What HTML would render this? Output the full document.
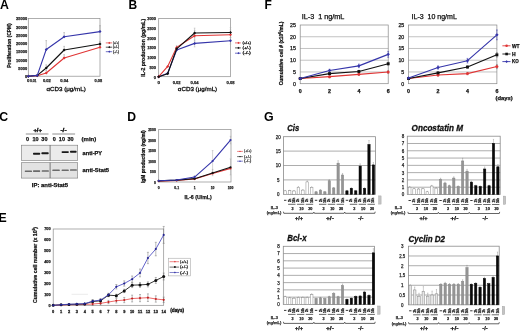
<!DOCTYPE html>
<html><head><meta charset="utf-8"><style>
html,body{margin:0;padding:0;background:#fff;width:520px;height:332px;overflow:hidden}
svg{display:block;font-family:"Liberation Sans", sans-serif;filter:blur(0.3px)}
</style></head><body>
<svg width="520" height="332" viewBox="0 0 520 332">
<rect width="520" height="332" fill="#fff"/>
<text x="0" y="8.7" font-size="12.3" font-weight="bold">A</text>
<text x="128.4" y="8.7" font-size="12" font-weight="bold">B</text>
<text x="-0.7" y="120.7" font-size="12.3" font-weight="bold">C</text>
<text x="127.3" y="120.8" font-size="12.2" font-weight="bold">D</text>
<text x="-1.4" y="221.6" font-size="12.3" font-weight="bold">E</text>
<text x="264.6" y="8.7" font-size="12" font-weight="bold">F</text>
<text x="264.1" y="120.6" font-size="12.4" font-weight="bold">G</text>
<rect x="28.3" y="18.5" width="71.7" height="57.7" fill="none" stroke="#8c8c8c" stroke-width="0.7" />
<text x="27.1" y="78.05" font-size="4.3" fill="#222" stroke="#222" stroke-width="0.25" font-weight="bold" text-anchor="end" textLength="2.2" lengthAdjust="spacingAndGlyphs" >0</text>
<text x="27.1" y="69.81" font-size="4.3" fill="#222" stroke="#222" stroke-width="0.25" font-weight="bold" text-anchor="end" textLength="8.8" lengthAdjust="spacingAndGlyphs" >5000</text>
<text x="27.1" y="61.56" font-size="4.3" fill="#222" stroke="#222" stroke-width="0.25" font-weight="bold" text-anchor="end" textLength="11" lengthAdjust="spacingAndGlyphs" >10000</text>
<text x="27.1" y="53.32" font-size="4.3" fill="#222" stroke="#222" stroke-width="0.25" font-weight="bold" text-anchor="end" textLength="11" lengthAdjust="spacingAndGlyphs" >15000</text>
<text x="27.1" y="45.08" font-size="4.3" fill="#222" stroke="#222" stroke-width="0.25" font-weight="bold" text-anchor="end" textLength="11" lengthAdjust="spacingAndGlyphs" >20000</text>
<text x="27.1" y="36.83" font-size="4.3" fill="#222" stroke="#222" stroke-width="0.25" font-weight="bold" text-anchor="end" textLength="11" lengthAdjust="spacingAndGlyphs" >25000</text>
<text x="27.1" y="28.59" font-size="4.3" fill="#222" stroke="#222" stroke-width="0.25" font-weight="bold" text-anchor="end" textLength="11" lengthAdjust="spacingAndGlyphs" >30000</text>
<text x="27.1" y="20.35" font-size="4.3" fill="#222" stroke="#222" stroke-width="0.25" font-weight="bold" text-anchor="end" textLength="11" lengthAdjust="spacingAndGlyphs" >35000</text>
<text x="28.2" y="82.48" font-size="4.4" fill="#222" stroke="#222" stroke-width="0.25" font-weight="bold" text-anchor="middle" >0</text>
<text x="33.2" y="82.48" font-size="4.4" fill="#222" stroke="#222" stroke-width="0.25" font-weight="bold" text-anchor="middle" textLength="6.6" lengthAdjust="spacingAndGlyphs" >0.01</text>
<text x="46.9" y="82.48" font-size="4.4" fill="#222" stroke="#222" stroke-width="0.25" font-weight="bold" text-anchor="middle" textLength="8" lengthAdjust="spacingAndGlyphs" >0.02</text>
<text x="64.3" y="82.48" font-size="4.4" fill="#222" stroke="#222" stroke-width="0.25" font-weight="bold" text-anchor="middle" textLength="8" lengthAdjust="spacingAndGlyphs" >0.04</text>
<text x="98.4" y="82.48" font-size="4.4" fill="#222" stroke="#222" stroke-width="0.25" font-weight="bold" text-anchor="middle" textLength="7.6" lengthAdjust="spacingAndGlyphs" >0.08</text>
<text x="46.4" y="90.76" font-size="6" fill="#111" stroke="#111" stroke-width="0.3" textLength="39.4" lengthAdjust="spacingAndGlyphs" >&#945;CD3 (&#956;g/mL)</text>
<text x="8.9" y="47.52" font-size="5.6" fill="#111" stroke="#111" stroke-width="0.25" font-weight="bold" text-anchor="middle" textLength="44.5" lengthAdjust="spacingAndGlyphs" transform="rotate(-90 8.9 45.5)" >Proliferation (CPM)</text>
<line x1="46.23" y1="49.49" x2="46.23" y2="40.59" stroke="#999" stroke-width="0.55" />
<line x1="45.43" y1="49.49" x2="47.02" y2="49.49" stroke="#999" stroke-width="0.55" />
<line x1="45.43" y1="40.59" x2="47.02" y2="40.59" stroke="#999" stroke-width="0.55" />
<line x1="64.15" y1="36.75" x2="64.15" y2="32.63" stroke="#999" stroke-width="0.55" />
<line x1="63.35" y1="36.75" x2="64.95" y2="36.75" stroke="#999" stroke-width="0.55" />
<line x1="63.35" y1="32.63" x2="64.95" y2="32.63" stroke="#999" stroke-width="0.55" />
<line x1="100" y1="31.61" x2="100" y2="25.67" stroke="#999" stroke-width="0.55" />
<line x1="99.2" y1="31.61" x2="100.8" y2="31.61" stroke="#999" stroke-width="0.55" />
<line x1="99.2" y1="25.67" x2="100.8" y2="25.67" stroke="#999" stroke-width="0.55" />
<line x1="64.15" y1="50" x2="64.15" y2="46.38" stroke="#999" stroke-width="0.55" />
<line x1="63.35" y1="50" x2="64.95" y2="50" stroke="#999" stroke-width="0.55" />
<line x1="63.35" y1="46.38" x2="64.95" y2="46.38" stroke="#999" stroke-width="0.55" />
<line x1="100" y1="44" x2="100" y2="41.53" stroke="#999" stroke-width="0.55" />
<line x1="99.2" y1="44" x2="100.8" y2="44" stroke="#999" stroke-width="0.55" />
<line x1="99.2" y1="41.53" x2="100.8" y2="41.53" stroke="#999" stroke-width="0.55" />
<line x1="64.15" y1="58" x2="64.15" y2="54.7" stroke="#999" stroke-width="0.55" />
<line x1="63.35" y1="58" x2="64.95" y2="58" stroke="#999" stroke-width="0.55" />
<line x1="63.35" y1="54.7" x2="64.95" y2="54.7" stroke="#999" stroke-width="0.55" />
<line x1="100" y1="47.2" x2="100" y2="45.22" stroke="#999" stroke-width="0.55" />
<line x1="99.2" y1="47.2" x2="100.8" y2="47.2" stroke="#999" stroke-width="0.55" />
<line x1="99.2" y1="45.22" x2="100.8" y2="45.22" stroke="#999" stroke-width="0.55" />
<line x1="46.23" y1="68.01" x2="46.23" y2="64.87" stroke="#999" stroke-width="0.55" />
<line x1="45.43" y1="68.01" x2="47.02" y2="68.01" stroke="#999" stroke-width="0.55" />
<line x1="45.43" y1="64.87" x2="47.02" y2="64.87" stroke="#999" stroke-width="0.55" />
<line x1="46.23" y1="73" x2="46.23" y2="70.53" stroke="#999" stroke-width="0.55" />
<line x1="45.43" y1="73" x2="47.02" y2="73" stroke="#999" stroke-width="0.55" />
<line x1="45.43" y1="70.53" x2="47.02" y2="70.53" stroke="#999" stroke-width="0.55" />
<polyline points="28.3,76.2 37.26,75.71 46.23,73 64.15,58 100,47.2" fill="none" stroke="#e03535" stroke-width="1.1" stroke-linejoin="round" />
<path d="M26.8 76.2L28.3 74.7L29.8 76.2L28.3 77.7Z" fill="#e03535"/>
<path d="M35.76 75.71L37.26 74.21L38.76 75.71L37.26 77.21Z" fill="#e03535"/>
<path d="M44.73 73L46.23 71.5L47.73 73L46.23 74.5Z" fill="#e03535"/>
<path d="M62.65 58L64.15 56.5L65.65 58L64.15 59.5Z" fill="#e03535"/>
<path d="M98.5 47.2L100 45.7L101.5 47.2L100 48.7Z" fill="#e03535"/>
<polyline points="28.3,76.2 37.26,75.38 46.23,68.01 64.15,50 100,44" fill="none" stroke="#111" stroke-width="1.1" stroke-linejoin="round" />
<path d="M26.8 76.2L28.3 74.7L29.8 76.2L28.3 77.7Z" fill="#111"/>
<path d="M35.76 75.38L37.26 73.88L38.76 75.38L37.26 76.88Z" fill="#111"/>
<path d="M44.73 68.01L46.23 66.51L47.73 68.01L46.23 69.51Z" fill="#111"/>
<path d="M62.65 50L64.15 48.5L65.65 50L64.15 51.5Z" fill="#111"/>
<path d="M98.5 44L100 42.5L101.5 44L100 45.5Z" fill="#111"/>
<polyline points="28.3,76.2 37.26,75.38 46.23,49.49 64.15,36.75 100,31.61" fill="none" stroke="#3535aa" stroke-width="1.1" stroke-linejoin="round" />
<path d="M26.8 76.2L28.3 74.7L29.8 76.2L28.3 77.7Z" fill="#3535aa"/>
<path d="M35.76 75.38L37.26 73.88L38.76 75.38L37.26 76.88Z" fill="#3535aa"/>
<path d="M44.73 49.49L46.23 47.99L47.73 49.49L46.23 50.99Z" fill="#3535aa"/>
<path d="M62.65 36.75L64.15 35.25L65.65 36.75L64.15 38.25Z" fill="#3535aa"/>
<path d="M98.5 31.61L100 30.11L101.5 31.61L100 33.11Z" fill="#3535aa"/>
<line x1="105.8" y1="42.9" x2="112.2" y2="42.9" stroke="#e03535" stroke-width="0.7" />
<path d="M108.2 42.9L109.3 41.8L110.4 42.9L109.3 44Z" fill="#e03535"/>
<text x="113" y="43.98" font-size="3" fill="#444" stroke="#444" stroke-width="0.25" textLength="6" lengthAdjust="spacingAndGlyphs" >(+/+)</text>
<line x1="105.8" y1="47.2" x2="112.2" y2="47.2" stroke="#111" stroke-width="0.7" />
<path d="M108.2 47.2L109.3 46.1L110.4 47.2L109.3 48.3Z" fill="#111"/>
<text x="113" y="48.28" font-size="3" fill="#444" stroke="#444" stroke-width="0.25" textLength="6" lengthAdjust="spacingAndGlyphs" >(+/-)</text>
<line x1="105.8" y1="51.7" x2="112.2" y2="51.7" stroke="#3535aa" stroke-width="0.7" />
<path d="M108.2 51.7L109.3 50.6L110.4 51.7L109.3 52.8Z" fill="#3535aa"/>
<text x="113" y="52.78" font-size="3" fill="#444" stroke="#444" stroke-width="0.25" textLength="6" lengthAdjust="spacingAndGlyphs" >(-/-)</text>
<rect x="158.7" y="18.4" width="71.8" height="58.3" fill="none" stroke="#8c8c8c" stroke-width="0.7" />
<text x="156" y="78.55" font-size="4.3" fill="#222" stroke="#222" stroke-width="0.25" font-weight="bold" text-anchor="end" textLength="2.2" lengthAdjust="spacingAndGlyphs" >0</text>
<text x="156" y="68.83" font-size="4.3" fill="#222" stroke="#222" stroke-width="0.25" font-weight="bold" text-anchor="end" textLength="6.6" lengthAdjust="spacingAndGlyphs" >500</text>
<text x="156" y="59.11" font-size="4.3" fill="#222" stroke="#222" stroke-width="0.25" font-weight="bold" text-anchor="end" textLength="8.8" lengthAdjust="spacingAndGlyphs" >1000</text>
<text x="156" y="49.4" font-size="4.3" fill="#222" stroke="#222" stroke-width="0.25" font-weight="bold" text-anchor="end" textLength="8.8" lengthAdjust="spacingAndGlyphs" >1500</text>
<text x="156" y="39.68" font-size="4.3" fill="#222" stroke="#222" stroke-width="0.25" font-weight="bold" text-anchor="end" textLength="8.8" lengthAdjust="spacingAndGlyphs" >2000</text>
<text x="156" y="29.96" font-size="4.3" fill="#222" stroke="#222" stroke-width="0.25" font-weight="bold" text-anchor="end" textLength="8.8" lengthAdjust="spacingAndGlyphs" >2500</text>
<text x="156" y="20.25" font-size="4.3" fill="#222" stroke="#222" stroke-width="0.25" font-weight="bold" text-anchor="end" textLength="8.8" lengthAdjust="spacingAndGlyphs" >3000</text>
<text x="158.7" y="83.58" font-size="4.4" fill="#222" stroke="#222" stroke-width="0.25" font-weight="bold" text-anchor="middle" >0</text>
<text x="176.65" y="83.58" font-size="4.4" fill="#222" stroke="#222" stroke-width="0.25" font-weight="bold" text-anchor="middle" textLength="8" lengthAdjust="spacingAndGlyphs" >0.02</text>
<text x="194.6" y="83.58" font-size="4.4" fill="#222" stroke="#222" stroke-width="0.25" font-weight="bold" text-anchor="middle" textLength="8" lengthAdjust="spacingAndGlyphs" >0.04</text>
<text x="230.5" y="83.58" font-size="4.4" fill="#222" stroke="#222" stroke-width="0.25" font-weight="bold" text-anchor="middle" textLength="8" lengthAdjust="spacingAndGlyphs" >0.08</text>
<text x="177.8" y="90.96" font-size="6" fill="#111" stroke="#111" stroke-width="0.3" textLength="39.4" lengthAdjust="spacingAndGlyphs" >&#945;CD3 (&#956;g/mL)</text>
<text x="142.9" y="49.67" font-size="5.2" fill="#111" stroke="#111" stroke-width="0.25" font-weight="bold" text-anchor="middle" textLength="58" lengthAdjust="spacingAndGlyphs" transform="rotate(-90 142.9 47.8)" >IL-2 production (pg/mL)</text>
<line x1="194.6" y1="41.23" x2="194.6" y2="30.35" stroke="#aaa" stroke-width="0.5" />
<line x1="193.8" y1="41.23" x2="195.4" y2="41.23" stroke="#aaa" stroke-width="0.5" />
<line x1="193.8" y1="30.35" x2="195.4" y2="30.35" stroke="#aaa" stroke-width="0.5" />
<line x1="230.5" y1="39.56" x2="230.5" y2="29.85" stroke="#aaa" stroke-width="0.5" />
<line x1="229.7" y1="39.56" x2="231.3" y2="39.56" stroke="#aaa" stroke-width="0.5" />
<line x1="229.7" y1="29.85" x2="231.3" y2="29.85" stroke="#aaa" stroke-width="0.5" />
<line x1="194.6" y1="37.85" x2="194.6" y2="28.14" stroke="#aaa" stroke-width="0.5" />
<line x1="193.8" y1="37.85" x2="195.4" y2="37.85" stroke="#aaa" stroke-width="0.5" />
<line x1="193.8" y1="28.14" x2="195.4" y2="28.14" stroke="#aaa" stroke-width="0.5" />
<line x1="230.5" y1="37.37" x2="230.5" y2="27.65" stroke="#aaa" stroke-width="0.5" />
<line x1="229.7" y1="37.37" x2="231.3" y2="37.37" stroke="#aaa" stroke-width="0.5" />
<line x1="229.7" y1="27.65" x2="231.3" y2="27.65" stroke="#aaa" stroke-width="0.5" />
<line x1="194.6" y1="46.89" x2="194.6" y2="39.89" stroke="#aaa" stroke-width="0.5" />
<line x1="193.8" y1="46.89" x2="195.4" y2="46.89" stroke="#aaa" stroke-width="0.5" />
<line x1="193.8" y1="39.89" x2="195.4" y2="39.89" stroke="#aaa" stroke-width="0.5" />
<line x1="230.5" y1="44.01" x2="230.5" y2="37.41" stroke="#aaa" stroke-width="0.5" />
<line x1="229.7" y1="44.01" x2="231.3" y2="44.01" stroke="#aaa" stroke-width="0.5" />
<line x1="229.7" y1="37.41" x2="231.3" y2="37.41" stroke="#aaa" stroke-width="0.5" />
<line x1="176.65" y1="49.34" x2="176.65" y2="45.45" stroke="#aaa" stroke-width="0.5" />
<line x1="175.85" y1="49.34" x2="177.45" y2="49.34" stroke="#aaa" stroke-width="0.5" />
<line x1="175.85" y1="45.45" x2="177.45" y2="45.45" stroke="#aaa" stroke-width="0.5" />
<polyline points="158.7,76.7 167.67,73.2 176.65,50.1 194.6,43.39 230.5,40.71" fill="none" stroke="#3535aa" stroke-width="1.1" stroke-linejoin="round" />
<path d="M157.2 76.7L158.7 75.2L160.2 76.7L158.7 78.2Z" fill="#3535aa"/>
<path d="M166.17 73.2L167.67 71.7L169.17 73.2L167.67 74.7Z" fill="#3535aa"/>
<path d="M175.15 50.1L176.65 48.6L178.15 50.1L176.65 51.6Z" fill="#3535aa"/>
<path d="M193.1 43.39L194.6 41.89L196.1 43.39L194.6 44.89Z" fill="#3535aa"/>
<path d="M229 40.71L230.5 39.21L232 40.71L230.5 42.21Z" fill="#3535aa"/>
<polyline points="158.7,76.7 167.67,66.4 176.65,47.39 194.6,35.79 230.5,34.7" fill="none" stroke="#e03535" stroke-width="1.1" stroke-linejoin="round" />
<path d="M157.2 76.7L158.7 75.2L160.2 76.7L158.7 78.2Z" fill="#e03535"/>
<path d="M166.17 66.4L167.67 64.9L169.17 66.4L167.67 67.9Z" fill="#e03535"/>
<path d="M175.15 47.39L176.65 45.89L178.15 47.39L176.65 48.89Z" fill="#e03535"/>
<path d="M193.1 35.79L194.6 34.29L196.1 35.79L194.6 37.29Z" fill="#e03535"/>
<path d="M229 34.7L230.5 33.2L232 34.7L230.5 36.2Z" fill="#e03535"/>
<polyline points="158.7,76.7 167.67,73.71 176.65,48.79 194.6,32.99 230.5,32.51" fill="none" stroke="#111" stroke-width="1.1" stroke-linejoin="round" />
<path d="M157.2 76.7L158.7 75.2L160.2 76.7L158.7 78.2Z" fill="#111"/>
<path d="M166.17 73.71L167.67 72.21L169.17 73.71L167.67 75.21Z" fill="#111"/>
<path d="M175.15 48.79L176.65 47.29L178.15 48.79L176.65 50.29Z" fill="#111"/>
<path d="M193.1 32.99L194.6 31.49L196.1 32.99L194.6 34.49Z" fill="#111"/>
<path d="M229 32.51L230.5 31.01L232 32.51L230.5 34.01Z" fill="#111"/>
<line x1="235" y1="42.9" x2="240.8" y2="42.9" stroke="#e03535" stroke-width="0.7" />
<path d="M237.4 42.9L238.5 41.8L239.6 42.9L238.5 44Z" fill="#e03535"/>
<text x="242.4" y="44.05" font-size="3.2" fill="#222" stroke="#222" stroke-width="0.25" textLength="8.5" lengthAdjust="spacingAndGlyphs" >(+/+)</text>
<line x1="235" y1="47.9" x2="240.8" y2="47.9" stroke="#111" stroke-width="0.7" />
<path d="M237.4 47.9L238.5 46.8L239.6 47.9L238.5 49Z" fill="#111"/>
<text x="242.4" y="49.05" font-size="3.2" fill="#222" stroke="#222" stroke-width="0.25" textLength="8.5" lengthAdjust="spacingAndGlyphs" >(+/-)</text>
<line x1="235" y1="53.2" x2="240.8" y2="53.2" stroke="#3535aa" stroke-width="0.7" />
<path d="M237.4 53.2L238.5 52.1L239.6 53.2L238.5 54.3Z" fill="#3535aa"/>
<text x="242.4" y="54.35" font-size="3.2" fill="#222" stroke="#222" stroke-width="0.25" textLength="8.5" lengthAdjust="spacingAndGlyphs" >(-/-)</text>
<text x="37.7" y="132.02" font-size="5.6" fill="#000" stroke="#000" stroke-width="0.3" font-weight="bold" text-anchor="middle" textLength="8.6" lengthAdjust="spacingAndGlyphs" >+/+</text>
<text x="63.5" y="132.02" font-size="5.6" fill="#000" stroke="#000" stroke-width="0.3" font-weight="bold" text-anchor="middle" textLength="6.2" lengthAdjust="spacingAndGlyphs" >-/-</text>
<line x1="25.8" y1="134" x2="48.5" y2="134" stroke="#444" stroke-width="0.6" />
<line x1="52.3" y1="134" x2="75.1" y2="134" stroke="#444" stroke-width="0.6" />
<text x="27.6" y="141.28" font-size="5.5" fill="#111" stroke="#111" stroke-width="0.25" font-weight="bold" text-anchor="middle" >0</text>
<text x="35.6" y="141.28" font-size="5.5" fill="#111" stroke="#111" stroke-width="0.25" font-weight="bold" text-anchor="middle" >10</text>
<text x="44.4" y="141.28" font-size="5.5" fill="#111" stroke="#111" stroke-width="0.25" font-weight="bold" text-anchor="middle" >30</text>
<text x="54.2" y="141.28" font-size="5.5" fill="#111" stroke="#111" stroke-width="0.25" font-weight="bold" text-anchor="middle" >0</text>
<text x="61.9" y="141.28" font-size="5.5" fill="#111" stroke="#111" stroke-width="0.25" font-weight="bold" text-anchor="middle" >10</text>
<text x="70.5" y="141.28" font-size="5.5" fill="#111" stroke="#111" stroke-width="0.25" font-weight="bold" text-anchor="middle" >30</text>
<text x="81.6" y="141.34" font-size="5.4" fill="#111" stroke="#111" stroke-width="0.25" font-weight="bold" textLength="14.6" lengthAdjust="spacingAndGlyphs" >(min)</text>
<rect x="21.3" y="145.2" width="56.4" height="15.3" fill="#ebebeb" stroke="#7a7a7a" stroke-width="0.6" />
<rect x="21.3" y="162.7" width="56.4" height="15.4" fill="#e2e2e2" stroke="#7a7a7a" stroke-width="0.6" />
<line x1="50.1" y1="145.2" x2="50.1" y2="160.5" stroke="#333" stroke-width="0.6" />
<line x1="50.1" y1="162.7" x2="50.1" y2="178.1" stroke="#333" stroke-width="0.6" />
<rect x="33" y="152.75" width="7.2" height="1.9" fill="#1a1a1a" stroke="none" stroke-width="0.8" rx="0.7"/>
<rect x="41.4" y="152.35" width="7.3" height="1.9" fill="#1a1a1a" stroke="none" stroke-width="0.8" rx="0.7"/>
<rect x="61.6" y="151.15" width="7.2" height="1.9" fill="#1a1a1a" stroke="none" stroke-width="0.8" rx="0.7"/>
<rect x="70" y="150.85" width="6.6" height="1.9" fill="#1a1a1a" stroke="none" stroke-width="0.8" rx="0.7"/>
<rect x="24.8" y="170.4" width="7.2" height="1.6" fill="#6a6a6a" stroke="none" stroke-width="0.8" rx="0.6"/>
<rect x="33" y="170.3" width="7.2" height="1.6" fill="#6a6a6a" stroke="none" stroke-width="0.8" rx="0.6"/>
<rect x="41.7" y="170.2" width="7.2" height="1.6" fill="#6a6a6a" stroke="none" stroke-width="0.8" rx="0.6"/>
<rect x="52.3" y="169.5" width="7.5" height="1.6" fill="#6a6a6a" stroke="none" stroke-width="0.8" rx="0.6"/>
<rect x="61.6" y="169.4" width="7.2" height="1.6" fill="#6a6a6a" stroke="none" stroke-width="0.8" rx="0.6"/>
<rect x="70" y="169.2" width="6.9" height="1.6" fill="#6a6a6a" stroke="none" stroke-width="0.8" rx="0.6"/>
<text x="82.6" y="154.92" font-size="5.6" fill="#111" stroke="#111" stroke-width="0.25" font-weight="bold" textLength="19.5" lengthAdjust="spacingAndGlyphs" >anti-PY</text>
<text x="82.6" y="172.32" font-size="5.6" fill="#111" stroke="#111" stroke-width="0.25" font-weight="bold" textLength="26.5" lengthAdjust="spacingAndGlyphs" >anti-Stat5</text>
<text x="31.8" y="187.38" font-size="5.5" fill="#111" stroke="#111" stroke-width="0.25" font-weight="bold" textLength="36.2" lengthAdjust="spacingAndGlyphs" >IP: anti-Stat5</text>
<rect x="158.7" y="129.6" width="72.3" height="52.4" fill="none" stroke="#8c8c8c" stroke-width="0.7" />
<text x="155.8" y="183.67" font-size="3.8" fill="#222" stroke="#222" stroke-width="0.25" font-weight="bold" text-anchor="end" textLength="1.9" lengthAdjust="spacingAndGlyphs" >0</text>
<text x="155.8" y="173.19" font-size="3.8" fill="#222" stroke="#222" stroke-width="0.25" font-weight="bold" text-anchor="end" textLength="5.7" lengthAdjust="spacingAndGlyphs" >500</text>
<text x="155.8" y="162.71" font-size="3.8" fill="#222" stroke="#222" stroke-width="0.25" font-weight="bold" text-anchor="end" textLength="7.6" lengthAdjust="spacingAndGlyphs" >1000</text>
<text x="155.8" y="152.23" font-size="3.8" fill="#222" stroke="#222" stroke-width="0.25" font-weight="bold" text-anchor="end" textLength="7.6" lengthAdjust="spacingAndGlyphs" >1500</text>
<text x="155.8" y="141.75" font-size="3.8" fill="#222" stroke="#222" stroke-width="0.25" font-weight="bold" text-anchor="end" textLength="7.6" lengthAdjust="spacingAndGlyphs" >2000</text>
<text x="155.8" y="131.27" font-size="3.8" fill="#222" stroke="#222" stroke-width="0.25" font-weight="bold" text-anchor="end" textLength="7.6" lengthAdjust="spacingAndGlyphs" >2500</text>
<text x="158.7" y="189.47" font-size="3.8" fill="#222" stroke="#222" stroke-width="0.25" font-weight="bold" text-anchor="middle" textLength="1.9" lengthAdjust="spacingAndGlyphs" >0</text>
<text x="176.7" y="189.47" font-size="3.8" fill="#222" stroke="#222" stroke-width="0.25" font-weight="bold" text-anchor="middle" textLength="4.7" lengthAdjust="spacingAndGlyphs" >0.1</text>
<text x="194.6" y="189.47" font-size="3.8" fill="#222" stroke="#222" stroke-width="0.25" font-weight="bold" text-anchor="middle" textLength="1.9" lengthAdjust="spacingAndGlyphs" >1</text>
<text x="212.6" y="189.47" font-size="3.8" fill="#222" stroke="#222" stroke-width="0.25" font-weight="bold" text-anchor="middle" textLength="3.8" lengthAdjust="spacingAndGlyphs" >10</text>
<text x="230.5" y="189.47" font-size="3.8" fill="#222" stroke="#222" stroke-width="0.25" font-weight="bold" text-anchor="middle" textLength="5.7" lengthAdjust="spacingAndGlyphs" >100</text>
<text x="184.5" y="198.69" font-size="5.8" fill="#111" stroke="#111" stroke-width="0.25" font-weight="bold" textLength="27.2" lengthAdjust="spacingAndGlyphs" >IL-6 (U/mL)</text>
<text x="142.9" y="158.43" font-size="4.8" fill="#111" stroke="#111" stroke-width="0.25" font-weight="bold" text-anchor="middle" textLength="52.8" lengthAdjust="spacingAndGlyphs" transform="rotate(-90 142.9 156.7)" >IgM production (ng/ml)</text>
<line x1="212.6" y1="171.52" x2="212.6" y2="150.56" stroke="#aaa" stroke-width="0.5" />
<line x1="211.8" y1="171.52" x2="213.4" y2="171.52" stroke="#aaa" stroke-width="0.5" />
<line x1="211.8" y1="150.56" x2="213.4" y2="150.56" stroke="#aaa" stroke-width="0.5" />
<line x1="230.5" y1="143.85" x2="230.5" y2="136.31" stroke="#aaa" stroke-width="0.5" />
<line x1="229.7" y1="143.85" x2="231.3" y2="143.85" stroke="#aaa" stroke-width="0.5" />
<line x1="229.7" y1="136.31" x2="231.3" y2="136.31" stroke="#aaa" stroke-width="0.5" />
<line x1="230.5" y1="174.87" x2="230.5" y2="158.94" stroke="#aaa" stroke-width="0.5" />
<line x1="229.7" y1="174.87" x2="231.3" y2="174.87" stroke="#aaa" stroke-width="0.5" />
<line x1="229.7" y1="158.94" x2="231.3" y2="158.94" stroke="#aaa" stroke-width="0.5" />
<line x1="212.6" y1="175.71" x2="212.6" y2="169.42" stroke="#aaa" stroke-width="0.5" />
<line x1="211.8" y1="175.71" x2="213.4" y2="175.71" stroke="#aaa" stroke-width="0.5" />
<line x1="211.8" y1="169.42" x2="213.4" y2="169.42" stroke="#aaa" stroke-width="0.5" />
<line x1="194.6" y1="178.02" x2="194.6" y2="175.5" stroke="#aaa" stroke-width="0.5" />
<line x1="193.8" y1="178.02" x2="195.4" y2="178.02" stroke="#aaa" stroke-width="0.5" />
<line x1="193.8" y1="175.5" x2="195.4" y2="175.5" stroke="#aaa" stroke-width="0.5" />
<polyline points="158.7,181.16 176.7,180.53 194.6,179.07 212.6,173.41 230.5,168.38" fill="none" stroke="#e03535" stroke-width="1.1" stroke-linejoin="round" />
<circle cx="158.7" cy="181.16" r="1.1" fill="#e03535"/>
<circle cx="176.7" cy="180.53" r="1.1" fill="#e03535"/>
<circle cx="194.6" cy="179.07" r="1.1" fill="#e03535"/>
<circle cx="212.6" cy="173.41" r="1.1" fill="#e03535"/>
<circle cx="230.5" cy="168.38" r="1.1" fill="#e03535"/>
<polyline points="158.7,180.85 176.7,180.11 194.6,178.65 212.6,172.99 230.5,167.33" fill="none" stroke="#111" stroke-width="1.1" stroke-linejoin="round" />
<circle cx="158.7" cy="180.85" r="1.1" fill="#111"/>
<circle cx="176.7" cy="180.11" r="1.1" fill="#111"/>
<circle cx="194.6" cy="178.65" r="1.1" fill="#111"/>
<circle cx="212.6" cy="172.99" r="1.1" fill="#111"/>
<circle cx="230.5" cy="167.33" r="1.1" fill="#111"/>
<polyline points="158.7,180.74 176.7,180.01 194.6,177.07 212.6,161.04 230.5,140.08" fill="none" stroke="#3535aa" stroke-width="1.1" stroke-linejoin="round" />
<circle cx="158.7" cy="180.74" r="1.1" fill="#3535aa"/>
<circle cx="176.7" cy="180.01" r="1.1" fill="#3535aa"/>
<circle cx="194.6" cy="177.07" r="1.1" fill="#3535aa"/>
<circle cx="212.6" cy="161.04" r="1.1" fill="#3535aa"/>
<circle cx="230.5" cy="140.08" r="1.1" fill="#3535aa"/>
<line x1="237.1" y1="151.4" x2="242.9" y2="151.4" stroke="#e03535" stroke-width="0.6" />
<circle cx="240" cy="151.4" r="0.7" fill="#e03535"/>
<text x="244" y="152.48" font-size="3" fill="#555" stroke="#555" stroke-width="0.25" textLength="7.4" lengthAdjust="spacingAndGlyphs" >(+/+)</text>
<line x1="237.1" y1="156.6" x2="242.9" y2="156.6" stroke="#111" stroke-width="0.6" />
<circle cx="240" cy="156.6" r="0.7" fill="#111"/>
<text x="244" y="157.68" font-size="3" fill="#555" stroke="#555" stroke-width="0.25" textLength="7.4" lengthAdjust="spacingAndGlyphs" >(+/-)</text>
<line x1="237.1" y1="161.2" x2="242.9" y2="161.2" stroke="#3535aa" stroke-width="0.6" />
<circle cx="240" cy="161.2" r="0.7" fill="#3535aa"/>
<text x="244" y="162.28" font-size="3" fill="#555" stroke="#555" stroke-width="0.25" textLength="7.4" lengthAdjust="spacingAndGlyphs" >(-/-)</text>
<rect x="53.2" y="229" width="110.5" height="76.3" fill="none" stroke="#8c8c8c" stroke-width="0.7" />
<text x="50.6" y="306.77" font-size="3.8" fill="#222" stroke="#222" stroke-width="0.25" font-weight="bold" text-anchor="end" textLength="2.15" lengthAdjust="spacingAndGlyphs" >0</text>
<text x="50.6" y="295.87" font-size="3.8" fill="#222" stroke="#222" stroke-width="0.25" font-weight="bold" text-anchor="end" textLength="6.45" lengthAdjust="spacingAndGlyphs" >100</text>
<text x="50.6" y="284.97" font-size="3.8" fill="#222" stroke="#222" stroke-width="0.25" font-weight="bold" text-anchor="end" textLength="6.45" lengthAdjust="spacingAndGlyphs" >200</text>
<text x="50.6" y="274.07" font-size="3.8" fill="#222" stroke="#222" stroke-width="0.25" font-weight="bold" text-anchor="end" textLength="6.45" lengthAdjust="spacingAndGlyphs" >300</text>
<text x="50.6" y="263.17" font-size="3.8" fill="#222" stroke="#222" stroke-width="0.25" font-weight="bold" text-anchor="end" textLength="6.45" lengthAdjust="spacingAndGlyphs" >400</text>
<text x="50.6" y="252.27" font-size="3.8" fill="#222" stroke="#222" stroke-width="0.25" font-weight="bold" text-anchor="end" textLength="6.45" lengthAdjust="spacingAndGlyphs" >500</text>
<text x="50.6" y="241.37" font-size="3.8" fill="#222" stroke="#222" stroke-width="0.25" font-weight="bold" text-anchor="end" textLength="6.45" lengthAdjust="spacingAndGlyphs" >600</text>
<text x="50.6" y="230.47" font-size="3.8" fill="#222" stroke="#222" stroke-width="0.25" font-weight="bold" text-anchor="end" textLength="6.45" lengthAdjust="spacingAndGlyphs" >700</text>
<text x="53.2" y="313.05" font-size="4.3" fill="#222" stroke="#222" stroke-width="0.3" font-weight="bold" text-anchor="middle" textLength="2.2" lengthAdjust="spacingAndGlyphs" >0</text>
<text x="61.09" y="313.05" font-size="4.3" fill="#222" stroke="#222" stroke-width="0.3" font-weight="bold" text-anchor="middle" textLength="2.2" lengthAdjust="spacingAndGlyphs" >1</text>
<text x="68.99" y="313.05" font-size="4.3" fill="#222" stroke="#222" stroke-width="0.3" font-weight="bold" text-anchor="middle" textLength="2.2" lengthAdjust="spacingAndGlyphs" >2</text>
<text x="76.88" y="313.05" font-size="4.3" fill="#222" stroke="#222" stroke-width="0.3" font-weight="bold" text-anchor="middle" textLength="2.2" lengthAdjust="spacingAndGlyphs" >3</text>
<text x="84.77" y="313.05" font-size="4.3" fill="#222" stroke="#222" stroke-width="0.3" font-weight="bold" text-anchor="middle" textLength="2.2" lengthAdjust="spacingAndGlyphs" >4</text>
<text x="92.66" y="313.05" font-size="4.3" fill="#222" stroke="#222" stroke-width="0.3" font-weight="bold" text-anchor="middle" textLength="2.2" lengthAdjust="spacingAndGlyphs" >5</text>
<text x="100.56" y="313.05" font-size="4.3" fill="#222" stroke="#222" stroke-width="0.3" font-weight="bold" text-anchor="middle" textLength="2.2" lengthAdjust="spacingAndGlyphs" >6</text>
<text x="108.45" y="313.05" font-size="4.3" fill="#222" stroke="#222" stroke-width="0.3" font-weight="bold" text-anchor="middle" textLength="2.2" lengthAdjust="spacingAndGlyphs" >7</text>
<text x="116.34" y="313.05" font-size="4.3" fill="#222" stroke="#222" stroke-width="0.3" font-weight="bold" text-anchor="middle" textLength="2.2" lengthAdjust="spacingAndGlyphs" >8</text>
<text x="124.24" y="313.05" font-size="4.3" fill="#222" stroke="#222" stroke-width="0.3" font-weight="bold" text-anchor="middle" textLength="2.2" lengthAdjust="spacingAndGlyphs" >9</text>
<text x="132.13" y="313.05" font-size="4.3" fill="#222" stroke="#222" stroke-width="0.3" font-weight="bold" text-anchor="middle" textLength="4.4" lengthAdjust="spacingAndGlyphs" >10</text>
<text x="140.02" y="313.05" font-size="4.3" fill="#222" stroke="#222" stroke-width="0.3" font-weight="bold" text-anchor="middle" textLength="4.4" lengthAdjust="spacingAndGlyphs" >11</text>
<text x="147.91" y="313.05" font-size="4.3" fill="#222" stroke="#222" stroke-width="0.3" font-weight="bold" text-anchor="middle" textLength="4.4" lengthAdjust="spacingAndGlyphs" >12</text>
<text x="155.81" y="313.05" font-size="4.3" fill="#222" stroke="#222" stroke-width="0.3" font-weight="bold" text-anchor="middle" textLength="4.4" lengthAdjust="spacingAndGlyphs" >13</text>
<text x="163.7" y="313.05" font-size="4.3" fill="#222" stroke="#222" stroke-width="0.3" font-weight="bold" text-anchor="middle" textLength="4.4" lengthAdjust="spacingAndGlyphs" >14</text>
<text x="170.2" y="312.13" font-size="4.8" fill="#111" stroke="#111" stroke-width="0.3" font-weight="bold" textLength="14" lengthAdjust="spacingAndGlyphs" >(days)</text>
<text x="35.1" y="266.89" font-size="5.25" fill="#111" stroke="#111" stroke-width="0.25" font-weight="bold" text-anchor="middle" transform="rotate(-90 35.1 265)" >Cumulative cell number (x 10<tspan font-size="2.9" dy="-1.8">5</tspan><tspan dy="1.8">)</tspan></text>
<line x1="92.66" y1="302.68" x2="92.66" y2="299.63" stroke="#777" stroke-width="0.5" />
<line x1="91.66" y1="302.68" x2="93.66" y2="302.68" stroke="#777" stroke-width="0.5" />
<line x1="91.66" y1="299.63" x2="93.66" y2="299.63" stroke="#777" stroke-width="0.5" />
<line x1="92.66" y1="303.01" x2="92.66" y2="299.96" stroke="#777" stroke-width="0.5" />
<line x1="91.66" y1="303.01" x2="93.66" y2="303.01" stroke="#777" stroke-width="0.5" />
<line x1="91.66" y1="299.96" x2="93.66" y2="299.96" stroke="#777" stroke-width="0.5" />
<line x1="92.66" y1="305.52" x2="92.66" y2="302.47" stroke="#777" stroke-width="0.5" />
<line x1="91.66" y1="305.52" x2="93.66" y2="305.52" stroke="#777" stroke-width="0.5" />
<line x1="91.66" y1="302.47" x2="93.66" y2="302.47" stroke="#777" stroke-width="0.5" />
<line x1="100.56" y1="301.59" x2="100.56" y2="298.54" stroke="#777" stroke-width="0.5" />
<line x1="99.56" y1="301.59" x2="101.56" y2="301.59" stroke="#777" stroke-width="0.5" />
<line x1="99.56" y1="298.54" x2="101.56" y2="298.54" stroke="#777" stroke-width="0.5" />
<line x1="100.56" y1="302.36" x2="100.56" y2="299.31" stroke="#777" stroke-width="0.5" />
<line x1="99.56" y1="302.36" x2="101.56" y2="302.36" stroke="#777" stroke-width="0.5" />
<line x1="99.56" y1="299.31" x2="101.56" y2="299.31" stroke="#777" stroke-width="0.5" />
<line x1="100.56" y1="304.86" x2="100.56" y2="301.81" stroke="#777" stroke-width="0.5" />
<line x1="99.56" y1="304.86" x2="101.56" y2="304.86" stroke="#777" stroke-width="0.5" />
<line x1="99.56" y1="301.81" x2="101.56" y2="301.81" stroke="#777" stroke-width="0.5" />
<line x1="108.45" y1="296.36" x2="108.45" y2="293.31" stroke="#777" stroke-width="0.5" />
<line x1="107.45" y1="296.36" x2="109.45" y2="296.36" stroke="#777" stroke-width="0.5" />
<line x1="107.45" y1="293.31" x2="109.45" y2="293.31" stroke="#777" stroke-width="0.5" />
<line x1="108.45" y1="296.69" x2="108.45" y2="293.64" stroke="#777" stroke-width="0.5" />
<line x1="107.45" y1="296.69" x2="109.45" y2="296.69" stroke="#777" stroke-width="0.5" />
<line x1="107.45" y1="293.64" x2="109.45" y2="293.64" stroke="#777" stroke-width="0.5" />
<line x1="108.45" y1="303.67" x2="108.45" y2="300.4" stroke="#777" stroke-width="0.5" />
<line x1="107.45" y1="303.67" x2="109.45" y2="303.67" stroke="#777" stroke-width="0.5" />
<line x1="107.45" y1="300.4" x2="109.45" y2="300.4" stroke="#777" stroke-width="0.5" />
<line x1="116.34" y1="288.99" x2="116.34" y2="284.55" stroke="#777" stroke-width="0.5" />
<line x1="115.34" y1="288.99" x2="117.34" y2="288.99" stroke="#777" stroke-width="0.5" />
<line x1="115.34" y1="284.55" x2="117.34" y2="284.55" stroke="#777" stroke-width="0.5" />
<line x1="116.34" y1="297.23" x2="116.34" y2="294.18" stroke="#777" stroke-width="0.5" />
<line x1="115.34" y1="297.23" x2="117.34" y2="297.23" stroke="#777" stroke-width="0.5" />
<line x1="115.34" y1="294.18" x2="117.34" y2="294.18" stroke="#777" stroke-width="0.5" />
<line x1="116.34" y1="303.01" x2="116.34" y2="298.43" stroke="#777" stroke-width="0.5" />
<line x1="115.34" y1="303.01" x2="117.34" y2="303.01" stroke="#777" stroke-width="0.5" />
<line x1="115.34" y1="298.43" x2="117.34" y2="298.43" stroke="#777" stroke-width="0.5" />
<line x1="124.24" y1="286.12" x2="124.24" y2="280.88" stroke="#777" stroke-width="0.5" />
<line x1="123.24" y1="286.12" x2="125.24" y2="286.12" stroke="#777" stroke-width="0.5" />
<line x1="123.24" y1="280.88" x2="125.24" y2="280.88" stroke="#777" stroke-width="0.5" />
<line x1="124.24" y1="292.64" x2="124.24" y2="289.19" stroke="#777" stroke-width="0.5" />
<line x1="123.24" y1="292.64" x2="125.24" y2="292.64" stroke="#777" stroke-width="0.5" />
<line x1="123.24" y1="289.19" x2="125.24" y2="289.19" stroke="#777" stroke-width="0.5" />
<line x1="124.24" y1="302.68" x2="124.24" y2="297.45" stroke="#777" stroke-width="0.5" />
<line x1="123.24" y1="302.68" x2="125.24" y2="302.68" stroke="#777" stroke-width="0.5" />
<line x1="123.24" y1="297.45" x2="125.24" y2="297.45" stroke="#777" stroke-width="0.5" />
<line x1="132.13" y1="282.28" x2="132.13" y2="276" stroke="#777" stroke-width="0.5" />
<line x1="131.13" y1="282.28" x2="133.13" y2="282.28" stroke="#777" stroke-width="0.5" />
<line x1="131.13" y1="276" x2="133.13" y2="276" stroke="#777" stroke-width="0.5" />
<line x1="132.13" y1="287.55" x2="132.13" y2="282.72" stroke="#777" stroke-width="0.5" />
<line x1="131.13" y1="287.55" x2="133.13" y2="287.55" stroke="#777" stroke-width="0.5" />
<line x1="131.13" y1="282.72" x2="133.13" y2="282.72" stroke="#777" stroke-width="0.5" />
<line x1="132.13" y1="301.92" x2="132.13" y2="295.16" stroke="#777" stroke-width="0.5" />
<line x1="131.13" y1="301.92" x2="133.13" y2="301.92" stroke="#777" stroke-width="0.5" />
<line x1="131.13" y1="295.16" x2="133.13" y2="295.16" stroke="#777" stroke-width="0.5" />
<line x1="140.02" y1="276.81" x2="140.02" y2="269.04" stroke="#777" stroke-width="0.5" />
<line x1="139.02" y1="276.81" x2="141.02" y2="276.81" stroke="#777" stroke-width="0.5" />
<line x1="139.02" y1="269.04" x2="141.02" y2="269.04" stroke="#777" stroke-width="0.5" />
<line x1="140.02" y1="287.36" x2="140.02" y2="282.47" stroke="#777" stroke-width="0.5" />
<line x1="139.02" y1="287.36" x2="141.02" y2="287.36" stroke="#777" stroke-width="0.5" />
<line x1="139.02" y1="282.47" x2="141.02" y2="282.47" stroke="#777" stroke-width="0.5" />
<line x1="140.02" y1="301.7" x2="140.02" y2="294.51" stroke="#777" stroke-width="0.5" />
<line x1="139.02" y1="301.7" x2="141.02" y2="301.7" stroke="#777" stroke-width="0.5" />
<line x1="139.02" y1="294.51" x2="141.02" y2="294.51" stroke="#777" stroke-width="0.5" />
<line x1="147.91" y1="263.67" x2="147.91" y2="252.32" stroke="#777" stroke-width="0.5" />
<line x1="146.91" y1="263.67" x2="148.91" y2="263.67" stroke="#777" stroke-width="0.5" />
<line x1="146.91" y1="252.32" x2="148.91" y2="252.32" stroke="#777" stroke-width="0.5" />
<line x1="147.91" y1="286.88" x2="147.91" y2="281.86" stroke="#777" stroke-width="0.5" />
<line x1="146.91" y1="286.88" x2="148.91" y2="286.88" stroke="#777" stroke-width="0.5" />
<line x1="146.91" y1="281.86" x2="148.91" y2="281.86" stroke="#777" stroke-width="0.5" />
<line x1="147.91" y1="301.49" x2="147.91" y2="293.86" stroke="#777" stroke-width="0.5" />
<line x1="146.91" y1="301.49" x2="148.91" y2="301.49" stroke="#777" stroke-width="0.5" />
<line x1="146.91" y1="293.86" x2="148.91" y2="293.86" stroke="#777" stroke-width="0.5" />
<line x1="155.81" y1="255.81" x2="155.81" y2="242.31" stroke="#777" stroke-width="0.5" />
<line x1="154.81" y1="255.81" x2="156.81" y2="255.81" stroke="#777" stroke-width="0.5" />
<line x1="154.81" y1="242.31" x2="156.81" y2="242.31" stroke="#777" stroke-width="0.5" />
<line x1="155.81" y1="283.43" x2="155.81" y2="277.47" stroke="#777" stroke-width="0.5" />
<line x1="154.81" y1="283.43" x2="156.81" y2="283.43" stroke="#777" stroke-width="0.5" />
<line x1="154.81" y1="277.47" x2="156.81" y2="277.47" stroke="#777" stroke-width="0.5" />
<line x1="155.81" y1="302.14" x2="155.81" y2="295.82" stroke="#777" stroke-width="0.5" />
<line x1="154.81" y1="302.14" x2="156.81" y2="302.14" stroke="#777" stroke-width="0.5" />
<line x1="154.81" y1="295.82" x2="156.81" y2="295.82" stroke="#777" stroke-width="0.5" />
<line x1="163.7" y1="243.34" x2="163.7" y2="226.44" stroke="#777" stroke-width="0.5" />
<line x1="162.7" y1="243.34" x2="164.7" y2="243.34" stroke="#777" stroke-width="0.5" />
<line x1="162.7" y1="226.44" x2="164.7" y2="226.44" stroke="#777" stroke-width="0.5" />
<line x1="163.7" y1="279.98" x2="163.7" y2="273.07" stroke="#777" stroke-width="0.5" />
<line x1="162.7" y1="279.98" x2="164.7" y2="279.98" stroke="#777" stroke-width="0.5" />
<line x1="162.7" y1="273.07" x2="164.7" y2="273.07" stroke="#777" stroke-width="0.5" />
<line x1="163.7" y1="302.57" x2="163.7" y2="297.12" stroke="#777" stroke-width="0.5" />
<line x1="162.7" y1="302.57" x2="164.7" y2="302.57" stroke="#777" stroke-width="0.5" />
<line x1="162.7" y1="297.12" x2="164.7" y2="297.12" stroke="#777" stroke-width="0.5" />
<polyline points="53.2,305.3 61.09,304.97 68.99,304.75 76.88,304.65 84.77,304.43 92.66,303.99 100.56,303.34 108.45,302.03 116.34,300.72 124.24,300.07 132.13,298.54 140.02,298.11 147.91,297.67 155.81,298.98 163.7,299.85" fill="none" stroke="#e85050" stroke-width="0.85" stroke-linejoin="round" />
<path d="M51.9 305.3L53.2 304L54.5 305.3L53.2 306.6Z" fill="#c02020"/>
<path d="M59.79 304.97L61.09 303.67L62.39 304.97L61.09 306.27Z" fill="#c02020"/>
<path d="M67.69 304.75L68.99 303.45L70.29 304.75L68.99 306.06Z" fill="#c02020"/>
<path d="M75.58 304.65L76.88 303.35L78.18 304.65L76.88 305.95Z" fill="#c02020"/>
<path d="M83.47 304.43L84.77 303.13L86.07 304.43L84.77 305.73Z" fill="#c02020"/>
<path d="M91.36 303.99L92.66 302.69L93.96 303.99L92.66 305.29Z" fill="#c02020"/>
<path d="M99.26 303.34L100.56 302.04L101.86 303.34L100.56 304.64Z" fill="#c02020"/>
<path d="M107.15 302.03L108.45 300.73L109.75 302.03L108.45 303.33Z" fill="#c02020"/>
<path d="M115.04 300.72L116.34 299.42L117.64 300.72L116.34 302.02Z" fill="#c02020"/>
<path d="M122.94 300.07L124.24 298.77L125.54 300.07L124.24 301.37Z" fill="#c02020"/>
<path d="M130.83 298.54L132.13 297.24L133.43 298.54L132.13 299.84Z" fill="#c02020"/>
<path d="M138.72 298.11L140.02 296.81L141.32 298.11L140.02 299.41Z" fill="#c02020"/>
<path d="M146.61 297.67L147.91 296.37L149.21 297.67L147.91 298.97Z" fill="#c02020"/>
<path d="M154.51 298.98L155.81 297.68L157.11 298.98L155.81 300.28Z" fill="#c02020"/>
<path d="M162.4 299.85L163.7 298.55L165 299.85L163.7 301.15Z" fill="#c02020"/>
<polyline points="53.2,305.3 61.09,304.75 68.99,304.43 76.88,304.21 84.77,303.88 92.66,301.49 100.56,300.83 108.45,295.16 116.34,295.71 124.24,290.91 132.13,285.13 140.02,284.92 147.91,284.37 155.81,280.45 163.7,276.52" fill="none" stroke="#111" stroke-width="0.85" stroke-linejoin="round" />
<circle cx="53.2" cy="305.3" r="1.5" fill="#111"/>
<circle cx="61.09" cy="304.75" r="1.5" fill="#111"/>
<circle cx="68.99" cy="304.43" r="1.5" fill="#111"/>
<circle cx="76.88" cy="304.21" r="1.5" fill="#111"/>
<circle cx="84.77" cy="303.88" r="1.5" fill="#111"/>
<circle cx="92.66" cy="301.49" r="1.5" fill="#111"/>
<circle cx="100.56" cy="300.83" r="1.5" fill="#111"/>
<circle cx="108.45" cy="295.16" r="1.5" fill="#111"/>
<circle cx="116.34" cy="295.71" r="1.5" fill="#111"/>
<circle cx="124.24" cy="290.91" r="1.5" fill="#111"/>
<circle cx="132.13" cy="285.13" r="1.5" fill="#111"/>
<circle cx="140.02" cy="284.92" r="1.5" fill="#111"/>
<circle cx="147.91" cy="284.37" r="1.5" fill="#111"/>
<circle cx="155.81" cy="280.45" r="1.5" fill="#111"/>
<circle cx="163.7" cy="276.52" r="1.5" fill="#111"/>
<polyline points="53.2,305.3 61.09,304.75 68.99,304.21 76.88,303.99 84.77,303.67 92.66,301.16 100.56,300.07 108.45,294.84 116.34,286.77 124.24,283.5 132.13,279.14 140.02,272.93 147.91,257.99 155.81,249.06 163.7,234.89" fill="none" stroke="#4848c0" stroke-width="0.85" stroke-linejoin="round" />
<path d="M51.9 305.3L53.2 304L54.5 305.3L53.2 306.6Z" fill="#202090"/>
<path d="M59.79 304.75L61.09 303.45L62.39 304.75L61.09 306.06Z" fill="#202090"/>
<path d="M67.69 304.21L68.99 302.91L70.29 304.21L68.99 305.51Z" fill="#202090"/>
<path d="M75.58 303.99L76.88 302.69L78.18 303.99L76.88 305.29Z" fill="#202090"/>
<path d="M83.47 303.67L84.77 302.37L86.07 303.67L84.77 304.97Z" fill="#202090"/>
<path d="M91.36 301.16L92.66 299.86L93.96 301.16L92.66 302.46Z" fill="#202090"/>
<path d="M99.26 300.07L100.56 298.77L101.86 300.07L100.56 301.37Z" fill="#202090"/>
<path d="M107.15 294.84L108.45 293.54L109.75 294.84L108.45 296.14Z" fill="#202090"/>
<path d="M115.04 286.77L116.34 285.47L117.64 286.77L116.34 288.07Z" fill="#202090"/>
<path d="M122.94 283.5L124.24 282.2L125.54 283.5L124.24 284.8Z" fill="#202090"/>
<path d="M130.83 279.14L132.13 277.84L133.43 279.14L132.13 280.44Z" fill="#202090"/>
<path d="M138.72 272.93L140.02 271.63L141.32 272.93L140.02 274.23Z" fill="#202090"/>
<path d="M146.61 257.99L147.91 256.69L149.21 257.99L147.91 259.29Z" fill="#202090"/>
<path d="M154.51 249.06L155.81 247.76L157.11 249.06L155.81 250.36Z" fill="#202090"/>
<path d="M162.4 234.89L163.7 233.59L165 234.89L163.7 236.19Z" fill="#202090"/>
<rect x="168.3" y="258.2" width="22.2" height="17.7" fill="#fff" stroke="#999" stroke-width="0.5" />
<line x1="169.5" y1="261.7" x2="179.1" y2="261.7" stroke="#e03535" stroke-width="0.6" />
<path d="M174 261.7L174.9 260.8L175.8 261.7L174.9 262.6Z" fill="#e03535"/>
<text x="179.9" y="262.92" font-size="3.4" fill="#333" stroke="#333" stroke-width="0.25" textLength="8.2" lengthAdjust="spacingAndGlyphs" >(+/+)</text>
<line x1="169.5" y1="267.1" x2="179.1" y2="267.1" stroke="#111" stroke-width="0.6" />
<circle cx="174.9" cy="267.1" r="1" fill="#111"/>
<text x="179.9" y="268.32" font-size="3.4" fill="#333" stroke="#333" stroke-width="0.25" textLength="8.2" lengthAdjust="spacingAndGlyphs" >(+/-)</text>
<line x1="169.5" y1="272.5" x2="179.1" y2="272.5" stroke="#3535aa" stroke-width="0.6" />
<path d="M174 272.5L174.9 271.6L175.8 272.5L174.9 273.4Z" fill="#3535aa"/>
<text x="179.9" y="273.72" font-size="3.4" fill="#333" stroke="#333" stroke-width="0.25" textLength="8.2" lengthAdjust="spacingAndGlyphs" >(-/-)</text>
<line x1="71.6" y1="294.3" x2="87.9" y2="294.3" stroke="#ddd" stroke-width="0.6" />
<line x1="300.2" y1="71.96" x2="388.2" y2="71.96" stroke="#9a9a9a" stroke-width="0.6" />
<line x1="300.2" y1="60.22" x2="388.2" y2="60.22" stroke="#9a9a9a" stroke-width="0.6" />
<line x1="300.2" y1="48.48" x2="388.2" y2="48.48" stroke="#9a9a9a" stroke-width="0.6" />
<line x1="300.2" y1="36.74" x2="388.2" y2="36.74" stroke="#9a9a9a" stroke-width="0.6" />
<rect x="300.2" y="25" width="88" height="58.7" fill="none" stroke="#888" stroke-width="0.7" />
<text x="295.9" y="85.71" font-size="5.3" fill="#111" stroke="#111" stroke-width="0.25" text-anchor="end" textLength="2.95" lengthAdjust="spacingAndGlyphs" >0</text>
<text x="295.9" y="73.97" font-size="5.3" fill="#111" stroke="#111" stroke-width="0.25" text-anchor="end" textLength="2.95" lengthAdjust="spacingAndGlyphs" >5</text>
<text x="295.9" y="62.23" font-size="5.3" fill="#111" stroke="#111" stroke-width="0.25" text-anchor="end" textLength="5.9" lengthAdjust="spacingAndGlyphs" >10</text>
<text x="295.9" y="50.49" font-size="5.3" fill="#111" stroke="#111" stroke-width="0.25" text-anchor="end" textLength="5.9" lengthAdjust="spacingAndGlyphs" >15</text>
<text x="295.9" y="38.75" font-size="5.3" fill="#111" stroke="#111" stroke-width="0.25" text-anchor="end" textLength="5.9" lengthAdjust="spacingAndGlyphs" >20</text>
<text x="295.9" y="27.01" font-size="5.3" fill="#111" stroke="#111" stroke-width="0.25" text-anchor="end" textLength="5.9" lengthAdjust="spacingAndGlyphs" >25</text>
<text x="300.2" y="93.11" font-size="5.3" fill="#111" stroke="#111" stroke-width="0.25" font-weight="bold" text-anchor="middle" >0</text>
<text x="329.53" y="93.11" font-size="5.3" fill="#111" stroke="#111" stroke-width="0.25" font-weight="bold" text-anchor="middle" >2</text>
<text x="358.87" y="93.11" font-size="5.3" fill="#111" stroke="#111" stroke-width="0.25" font-weight="bold" text-anchor="middle" >4</text>
<text x="388.2" y="93.11" font-size="5.3" fill="#111" stroke="#111" stroke-width="0.25" font-weight="bold" text-anchor="middle" >6</text>
<text x="301.7" y="18.9" font-size="6.4" fill="#111" stroke="#111" stroke-width="0.25" textLength="42.7" lengthAdjust="spacingAndGlyphs" >IL-3&#160;&#160;1 ng/mL</text>
<line x1="329.53" y1="77.83" x2="329.53" y2="75.48" stroke="#777" stroke-width="0.5" />
<line x1="328.63" y1="77.83" x2="330.43" y2="77.83" stroke="#777" stroke-width="0.5" />
<line x1="328.63" y1="75.48" x2="330.43" y2="75.48" stroke="#777" stroke-width="0.5" />
<line x1="358.87" y1="75.48" x2="358.87" y2="73.13" stroke="#777" stroke-width="0.5" />
<line x1="357.97" y1="75.48" x2="359.77" y2="75.48" stroke="#777" stroke-width="0.5" />
<line x1="357.97" y1="73.13" x2="359.77" y2="73.13" stroke="#777" stroke-width="0.5" />
<line x1="388.2" y1="73.37" x2="388.2" y2="70.55" stroke="#777" stroke-width="0.5" />
<line x1="387.3" y1="73.37" x2="389.1" y2="73.37" stroke="#777" stroke-width="0.5" />
<line x1="387.3" y1="70.55" x2="389.1" y2="70.55" stroke="#777" stroke-width="0.5" />
<line x1="329.53" y1="74.78" x2="329.53" y2="72.43" stroke="#777" stroke-width="0.5" />
<line x1="328.63" y1="74.78" x2="330.43" y2="74.78" stroke="#777" stroke-width="0.5" />
<line x1="328.63" y1="72.43" x2="330.43" y2="72.43" stroke="#777" stroke-width="0.5" />
<line x1="358.87" y1="72.66" x2="358.87" y2="70.32" stroke="#777" stroke-width="0.5" />
<line x1="357.97" y1="72.66" x2="359.77" y2="72.66" stroke="#777" stroke-width="0.5" />
<line x1="357.97" y1="70.32" x2="359.77" y2="70.32" stroke="#777" stroke-width="0.5" />
<line x1="388.2" y1="65.34" x2="388.2" y2="62.15" stroke="#777" stroke-width="0.5" />
<line x1="387.3" y1="65.34" x2="389.1" y2="65.34" stroke="#777" stroke-width="0.5" />
<line x1="387.3" y1="62.15" x2="389.1" y2="62.15" stroke="#777" stroke-width="0.5" />
<line x1="329.53" y1="71.87" x2="329.53" y2="69.24" stroke="#3535aa" stroke-width="0.5" />
<line x1="328.63" y1="71.87" x2="330.43" y2="71.87" stroke="#3535aa" stroke-width="0.5" />
<line x1="328.63" y1="69.24" x2="330.43" y2="69.24" stroke="#3535aa" stroke-width="0.5" />
<line x1="358.87" y1="67.64" x2="358.87" y2="64.07" stroke="#3535aa" stroke-width="0.5" />
<line x1="357.97" y1="67.64" x2="359.77" y2="67.64" stroke="#3535aa" stroke-width="0.5" />
<line x1="357.97" y1="64.07" x2="359.77" y2="64.07" stroke="#3535aa" stroke-width="0.5" />
<line x1="388.2" y1="57.29" x2="388.2" y2="51.42" stroke="#3535aa" stroke-width="0.5" />
<line x1="387.3" y1="57.29" x2="389.1" y2="57.29" stroke="#3535aa" stroke-width="0.5" />
<line x1="387.3" y1="51.42" x2="389.1" y2="51.42" stroke="#3535aa" stroke-width="0.5" />
<polyline points="300.2,78.53 329.53,76.66 358.87,74.31 388.2,71.96" fill="none" stroke="#e03535" stroke-width="1.15" stroke-linejoin="round" />
<circle cx="300.2" cy="78.53" r="1.5" fill="#e03535"/>
<circle cx="329.53" cy="76.66" r="1.5" fill="#e03535"/>
<circle cx="358.87" cy="74.31" r="1.5" fill="#e03535"/>
<circle cx="388.2" cy="71.96" r="1.5" fill="#e03535"/>
<polyline points="300.2,78.53 329.53,73.6 358.87,71.49 388.2,63.74" fill="none" stroke="#111" stroke-width="1.15" stroke-linejoin="round" />
<rect x="298.75" y="77.08" width="2.9" height="2.9" fill="#111" stroke="none" stroke-width="0.8" />
<rect x="328.08" y="72.15" width="2.9" height="2.9" fill="#111" stroke="none" stroke-width="0.8" />
<rect x="357.42" y="70.04" width="2.9" height="2.9" fill="#111" stroke="none" stroke-width="0.8" />
<rect x="386.75" y="62.29" width="2.9" height="2.9" fill="#111" stroke="none" stroke-width="0.8" />
<polyline points="300.2,78.53 329.53,70.55 358.87,65.86 388.2,54.35" fill="none" stroke="#3535aa" stroke-width="1.15" stroke-linejoin="round" />
<path d="M298.5 78.53L300.2 76.83L301.9 78.53L300.2 80.23Z" fill="#3535aa"/>
<path d="M327.83 70.55L329.53 68.85L331.23 70.55L329.53 72.25Z" fill="#3535aa"/>
<path d="M357.17 65.86L358.87 64.16L360.57 65.86L358.87 67.56Z" fill="#3535aa"/>
<path d="M386.5 54.35L388.2 52.65L389.9 54.35L388.2 56.05Z" fill="#3535aa"/>
<line x1="408.6" y1="71.96" x2="496.9" y2="71.96" stroke="#9a9a9a" stroke-width="0.6" />
<line x1="408.6" y1="60.22" x2="496.9" y2="60.22" stroke="#9a9a9a" stroke-width="0.6" />
<line x1="408.6" y1="48.48" x2="496.9" y2="48.48" stroke="#9a9a9a" stroke-width="0.6" />
<line x1="408.6" y1="36.74" x2="496.9" y2="36.74" stroke="#9a9a9a" stroke-width="0.6" />
<rect x="408.6" y="25" width="88.3" height="58.7" fill="none" stroke="#888" stroke-width="0.7" />
<text x="404.3" y="85.71" font-size="5.3" fill="#111" stroke="#111" stroke-width="0.25" text-anchor="end" textLength="2.95" lengthAdjust="spacingAndGlyphs" >0</text>
<text x="404.3" y="73.97" font-size="5.3" fill="#111" stroke="#111" stroke-width="0.25" text-anchor="end" textLength="2.95" lengthAdjust="spacingAndGlyphs" >5</text>
<text x="404.3" y="62.23" font-size="5.3" fill="#111" stroke="#111" stroke-width="0.25" text-anchor="end" textLength="5.9" lengthAdjust="spacingAndGlyphs" >10</text>
<text x="404.3" y="50.49" font-size="5.3" fill="#111" stroke="#111" stroke-width="0.25" text-anchor="end" textLength="5.9" lengthAdjust="spacingAndGlyphs" >15</text>
<text x="404.3" y="38.75" font-size="5.3" fill="#111" stroke="#111" stroke-width="0.25" text-anchor="end" textLength="5.9" lengthAdjust="spacingAndGlyphs" >20</text>
<text x="404.3" y="27.01" font-size="5.3" fill="#111" stroke="#111" stroke-width="0.25" text-anchor="end" textLength="5.9" lengthAdjust="spacingAndGlyphs" >25</text>
<text x="408.6" y="93.11" font-size="5.3" fill="#111" stroke="#111" stroke-width="0.25" font-weight="bold" text-anchor="middle" >0</text>
<text x="438.03" y="93.11" font-size="5.3" fill="#111" stroke="#111" stroke-width="0.25" font-weight="bold" text-anchor="middle" >2</text>
<text x="467.47" y="93.11" font-size="5.3" fill="#111" stroke="#111" stroke-width="0.25" font-weight="bold" text-anchor="middle" >4</text>
<text x="496.9" y="93.11" font-size="5.3" fill="#111" stroke="#111" stroke-width="0.25" font-weight="bold" text-anchor="middle" >6</text>
<text x="411.6" y="18.9" font-size="6.4" fill="#111" stroke="#111" stroke-width="0.25" textLength="45.2" lengthAdjust="spacingAndGlyphs" >IL-3&#160;&#160;10 ng/mL</text>
<line x1="438.03" y1="76.19" x2="438.03" y2="73.84" stroke="#777" stroke-width="0.5" />
<line x1="437.13" y1="76.19" x2="438.93" y2="76.19" stroke="#777" stroke-width="0.5" />
<line x1="437.13" y1="73.84" x2="438.93" y2="73.84" stroke="#777" stroke-width="0.5" />
<line x1="467.47" y1="74.82" x2="467.47" y2="72.39" stroke="#777" stroke-width="0.5" />
<line x1="466.57" y1="74.82" x2="468.37" y2="74.82" stroke="#777" stroke-width="0.5" />
<line x1="466.57" y1="72.39" x2="468.37" y2="72.39" stroke="#777" stroke-width="0.5" />
<line x1="496.9" y1="68.62" x2="496.9" y2="64.5" stroke="#777" stroke-width="0.5" />
<line x1="496" y1="68.62" x2="497.8" y2="68.62" stroke="#777" stroke-width="0.5" />
<line x1="496" y1="64.5" x2="497.8" y2="64.5" stroke="#777" stroke-width="0.5" />
<line x1="438.03" y1="74.07" x2="438.03" y2="71.73" stroke="#777" stroke-width="0.5" />
<line x1="437.13" y1="74.07" x2="438.93" y2="74.07" stroke="#777" stroke-width="0.5" />
<line x1="437.13" y1="71.73" x2="438.93" y2="71.73" stroke="#777" stroke-width="0.5" />
<line x1="467.47" y1="68.36" x2="467.47" y2="65.7" stroke="#777" stroke-width="0.5" />
<line x1="466.57" y1="68.36" x2="468.37" y2="68.36" stroke="#777" stroke-width="0.5" />
<line x1="466.57" y1="65.7" x2="468.37" y2="65.7" stroke="#777" stroke-width="0.5" />
<line x1="496.9" y1="57.13" x2="496.9" y2="52.51" stroke="#777" stroke-width="0.5" />
<line x1="496" y1="57.13" x2="497.8" y2="57.13" stroke="#777" stroke-width="0.5" />
<line x1="496" y1="52.51" x2="497.8" y2="52.51" stroke="#777" stroke-width="0.5" />
<line x1="438.03" y1="69.12" x2="438.03" y2="65.88" stroke="#3535aa" stroke-width="0.5" />
<line x1="437.13" y1="69.12" x2="438.93" y2="69.12" stroke="#3535aa" stroke-width="0.5" />
<line x1="437.13" y1="65.88" x2="438.93" y2="65.88" stroke="#3535aa" stroke-width="0.5" />
<line x1="467.47" y1="62.99" x2="467.47" y2="58.39" stroke="#3535aa" stroke-width="0.5" />
<line x1="466.57" y1="62.99" x2="468.37" y2="62.99" stroke="#3535aa" stroke-width="0.5" />
<line x1="466.57" y1="58.39" x2="468.37" y2="58.39" stroke="#3535aa" stroke-width="0.5" />
<line x1="496.9" y1="39.75" x2="496.9" y2="29.98" stroke="#3535aa" stroke-width="0.5" />
<line x1="496" y1="39.75" x2="497.8" y2="39.75" stroke="#3535aa" stroke-width="0.5" />
<line x1="496" y1="29.98" x2="497.8" y2="29.98" stroke="#3535aa" stroke-width="0.5" />
<polyline points="408.6,78.53 438.03,75.01 467.47,73.6 496.9,66.56" fill="none" stroke="#e03535" stroke-width="1.15" stroke-linejoin="round" />
<circle cx="408.6" cy="78.53" r="1.5" fill="#e03535"/>
<circle cx="438.03" cy="75.01" r="1.5" fill="#e03535"/>
<circle cx="467.47" cy="73.6" r="1.5" fill="#e03535"/>
<circle cx="496.9" cy="66.56" r="1.5" fill="#e03535"/>
<polyline points="408.6,78.53 438.03,72.9 467.47,67.03 496.9,54.82" fill="none" stroke="#111" stroke-width="1.15" stroke-linejoin="round" />
<rect x="407.15" y="77.08" width="2.9" height="2.9" fill="#111" stroke="none" stroke-width="0.8" />
<rect x="436.58" y="71.45" width="2.9" height="2.9" fill="#111" stroke="none" stroke-width="0.8" />
<rect x="466.02" y="65.58" width="2.9" height="2.9" fill="#111" stroke="none" stroke-width="0.8" />
<rect x="495.45" y="53.37" width="2.9" height="2.9" fill="#111" stroke="none" stroke-width="0.8" />
<polyline points="408.6,78.06 438.03,67.5 467.47,60.69 496.9,34.86" fill="none" stroke="#3535aa" stroke-width="1.15" stroke-linejoin="round" />
<path d="M406.9 78.06L408.6 76.36L410.3 78.06L408.6 79.76Z" fill="#3535aa"/>
<path d="M436.33 67.5L438.03 65.8L439.73 67.5L438.03 69.2Z" fill="#3535aa"/>
<path d="M465.77 60.69L467.47 58.99L469.17 60.69L467.47 62.39Z" fill="#3535aa"/>
<path d="M495.2 34.86L496.9 33.16L498.6 34.86L496.9 36.56Z" fill="#3535aa"/>
<text x="281.2" y="55.18" font-size="4.95" fill="#111" stroke="#111" stroke-width="0.25" text-anchor="middle" transform="rotate(-90 281.2 53.4)" font-weight="600">Cumulative cell # (x10<tspan font-size="3.2" dy="-1.7">6</tspan><tspan dy="1.7">/mL)</tspan></text>
<text x="495.6" y="100.24" font-size="5.4" fill="#111" stroke="#111" stroke-width="0.25" font-weight="bold" textLength="17.2" lengthAdjust="spacingAndGlyphs" >(days)</text>
<line x1="502.4" y1="45.8" x2="510.5" y2="45.8" stroke="#e03535" stroke-width="0.9" />
<circle cx="506.6" cy="45.8" r="1.3" fill="#e03535"/>
<text x="511.9" y="47.6" font-size="5" fill="#111" stroke="#111" stroke-width="0.25" font-weight="bold" textLength="7.6" lengthAdjust="spacingAndGlyphs" >WT</text>
<line x1="502.4" y1="54" x2="510.5" y2="54" stroke="#111" stroke-width="0.9" />
<rect x="505.3" y="52.7" width="2.6" height="2.6" fill="#111" stroke="none" stroke-width="0.8" />
<text x="511.9" y="55.8" font-size="5" fill="#111" stroke="#111" stroke-width="0.25" font-weight="bold" >H</text>
<line x1="502.4" y1="61.6" x2="510.5" y2="61.6" stroke="#3535aa" stroke-width="0.9" />
<path d="M505.2 61.6L506.6 60.2L508 61.6L506.6 63Z" fill="#3535aa"/>
<text x="511.9" y="63.4" font-size="5" fill="#111" stroke="#111" stroke-width="0.25" font-weight="bold" textLength="6.8" lengthAdjust="spacingAndGlyphs" >KO</text>
<line x1="283.4" y1="179.9" x2="375.6" y2="179.9" stroke="#8a8a8a" stroke-width="0.7" />
<line x1="283.4" y1="165.5" x2="375.6" y2="165.5" stroke="#8a8a8a" stroke-width="0.7" />
<line x1="283.4" y1="151.1" x2="375.6" y2="151.1" stroke="#8a8a8a" stroke-width="0.7" />
<rect x="283.4" y="136.7" width="92.2" height="57.6" fill="none" stroke="#8a8a8a" stroke-width="0.8" />
<text x="278.2" y="196.2" font-size="5" fill="#222" stroke="#222" stroke-width="0.25" text-anchor="middle" textLength="2.5" lengthAdjust="spacingAndGlyphs" >0</text>
<text x="278.2" y="181.8" font-size="5" fill="#222" stroke="#222" stroke-width="0.25" text-anchor="middle" textLength="2.5" lengthAdjust="spacingAndGlyphs" >5</text>
<text x="278.2" y="167.4" font-size="5" fill="#222" stroke="#222" stroke-width="0.25" text-anchor="middle" textLength="5" lengthAdjust="spacingAndGlyphs" >10</text>
<text x="278.2" y="153" font-size="5" fill="#222" stroke="#222" stroke-width="0.25" text-anchor="middle" textLength="5" lengthAdjust="spacingAndGlyphs" >15</text>
<text x="278.2" y="138.6" font-size="5" fill="#222" stroke="#222" stroke-width="0.25" text-anchor="middle" textLength="5" lengthAdjust="spacingAndGlyphs" >20</text>
<text x="287.3" y="130.7" font-size="8.4" font-weight="bold" font-style="italic" fill="#111" stroke="#111" stroke-width="0.3" textLength="11.9" lengthAdjust="spacingAndGlyphs">Cis</text>
<line x1="285.2" y1="190.41" x2="285.2" y2="190.84" stroke="#888" stroke-width="0.4" />
<line x1="284.6" y1="190.41" x2="285.8" y2="190.41" stroke="#888" stroke-width="0.4" />
<line x1="284.6" y1="190.84" x2="285.8" y2="190.84" stroke="#888" stroke-width="0.4" />
<rect x="283.9" y="190.84" width="2.6" height="3.46" fill="#fff" stroke="#8a8a8a" stroke-width="0.5" />
<line x1="289.61" y1="190.27" x2="289.61" y2="190.7" stroke="#888" stroke-width="0.4" />
<line x1="289.01" y1="190.27" x2="290.21" y2="190.27" stroke="#888" stroke-width="0.4" />
<line x1="289.01" y1="190.7" x2="290.21" y2="190.7" stroke="#888" stroke-width="0.4" />
<rect x="288.31" y="190.7" width="2.6" height="3.6" fill="#fff" stroke="#8a8a8a" stroke-width="0.5" />
<line x1="294.02" y1="190.56" x2="294.02" y2="190.99" stroke="#888" stroke-width="0.4" />
<line x1="293.42" y1="190.56" x2="294.62" y2="190.56" stroke="#888" stroke-width="0.4" />
<line x1="293.42" y1="190.99" x2="294.62" y2="190.99" stroke="#888" stroke-width="0.4" />
<rect x="292.72" y="190.99" width="2.6" height="3.31" fill="#fff" stroke="#8a8a8a" stroke-width="0.5" />
<line x1="298.43" y1="186.68" x2="298.43" y2="187.24" stroke="#888" stroke-width="0.4" />
<line x1="297.83" y1="186.68" x2="299.03" y2="186.68" stroke="#888" stroke-width="0.4" />
<line x1="297.83" y1="187.24" x2="299.03" y2="187.24" stroke="#888" stroke-width="0.4" />
<rect x="297.13" y="187.24" width="2.6" height="7.06" fill="#fff" stroke="#8a8a8a" stroke-width="0.5" />
<line x1="302.84" y1="189.69" x2="302.84" y2="190.12" stroke="#888" stroke-width="0.4" />
<line x1="302.24" y1="189.69" x2="303.44" y2="189.69" stroke="#888" stroke-width="0.4" />
<line x1="302.24" y1="190.12" x2="303.44" y2="190.12" stroke="#888" stroke-width="0.4" />
<rect x="301.54" y="190.12" width="2.6" height="4.18" fill="#fff" stroke="#8a8a8a" stroke-width="0.5" />
<line x1="307.25" y1="180.93" x2="307.25" y2="181.92" stroke="#888" stroke-width="0.4" />
<line x1="306.65" y1="180.93" x2="307.85" y2="180.93" stroke="#888" stroke-width="0.4" />
<line x1="306.65" y1="181.92" x2="307.85" y2="181.92" stroke="#888" stroke-width="0.4" />
<rect x="305.95" y="181.92" width="2.6" height="12.38" fill="#fff" stroke="#8a8a8a" stroke-width="0.5" />
<line x1="311.66" y1="186.84" x2="311.66" y2="187.39" stroke="#888" stroke-width="0.4" />
<line x1="311.06" y1="186.84" x2="312.26" y2="186.84" stroke="#888" stroke-width="0.4" />
<line x1="311.06" y1="187.39" x2="312.26" y2="187.39" stroke="#888" stroke-width="0.4" />
<rect x="310.36" y="187.39" width="2.6" height="6.91" fill="#fff" stroke="#8a8a8a" stroke-width="0.5" />
<line x1="316.07" y1="191.42" x2="316.07" y2="191.85" stroke="#888" stroke-width="0.4" />
<line x1="315.47" y1="191.42" x2="316.67" y2="191.42" stroke="#888" stroke-width="0.4" />
<line x1="315.47" y1="191.85" x2="316.67" y2="191.85" stroke="#888" stroke-width="0.4" />
<rect x="314.92" y="191.85" width="2.3" height="2.45" fill="#959595" stroke="#858585" stroke-width="0.5" />
<line x1="320.48" y1="189.69" x2="320.48" y2="190.12" stroke="#888" stroke-width="0.4" />
<line x1="319.88" y1="189.69" x2="321.08" y2="189.69" stroke="#888" stroke-width="0.4" />
<line x1="319.88" y1="190.12" x2="321.08" y2="190.12" stroke="#888" stroke-width="0.4" />
<rect x="319.33" y="190.12" width="2.3" height="4.18" fill="#959595" stroke="#858585" stroke-width="0.5" />
<line x1="324.89" y1="191.42" x2="324.89" y2="191.85" stroke="#888" stroke-width="0.4" />
<line x1="324.29" y1="191.42" x2="325.49" y2="191.42" stroke="#888" stroke-width="0.4" />
<line x1="324.29" y1="191.85" x2="325.49" y2="191.85" stroke="#888" stroke-width="0.4" />
<rect x="323.74" y="191.85" width="2.3" height="2.45" fill="#959595" stroke="#858585" stroke-width="0.5" />
<line x1="329.3" y1="179.68" x2="329.3" y2="180.76" stroke="#888" stroke-width="0.4" />
<line x1="328.7" y1="179.68" x2="329.9" y2="179.68" stroke="#888" stroke-width="0.4" />
<line x1="328.7" y1="180.76" x2="329.9" y2="180.76" stroke="#888" stroke-width="0.4" />
<rect x="328.15" y="180.76" width="2.3" height="13.54" fill="#959595" stroke="#858585" stroke-width="0.5" />
<line x1="333.71" y1="187.46" x2="333.71" y2="187.96" stroke="#888" stroke-width="0.4" />
<line x1="333.11" y1="187.46" x2="334.31" y2="187.46" stroke="#888" stroke-width="0.4" />
<line x1="333.11" y1="187.96" x2="334.31" y2="187.96" stroke="#888" stroke-width="0.4" />
<rect x="332.56" y="187.96" width="2.3" height="6.34" fill="#959595" stroke="#858585" stroke-width="0.5" />
<line x1="338.12" y1="160.71" x2="338.12" y2="163.2" stroke="#888" stroke-width="0.4" />
<line x1="337.52" y1="160.71" x2="338.72" y2="160.71" stroke="#888" stroke-width="0.4" />
<line x1="337.52" y1="163.2" x2="338.72" y2="163.2" stroke="#888" stroke-width="0.4" />
<rect x="336.97" y="163.2" width="2.3" height="31.1" fill="#959595" stroke="#858585" stroke-width="0.5" />
<line x1="342.53" y1="173.46" x2="342.53" y2="175" stroke="#888" stroke-width="0.4" />
<line x1="341.93" y1="173.46" x2="343.13" y2="173.46" stroke="#888" stroke-width="0.4" />
<line x1="341.93" y1="175" x2="343.13" y2="175" stroke="#888" stroke-width="0.4" />
<rect x="341.38" y="175" width="2.3" height="19.3" fill="#959595" stroke="#858585" stroke-width="0.5" />
<line x1="346.94" y1="190.41" x2="346.94" y2="190.84" stroke="#888" stroke-width="0.4" />
<line x1="346.34" y1="190.41" x2="347.54" y2="190.41" stroke="#888" stroke-width="0.4" />
<line x1="346.34" y1="190.84" x2="347.54" y2="190.84" stroke="#888" stroke-width="0.4" />
<rect x="345.79" y="190.84" width="2.3" height="3.46" fill="#0a0a0a" stroke="#000" stroke-width="0.5" />
<line x1="351.35" y1="187.77" x2="351.35" y2="188.25" stroke="#888" stroke-width="0.4" />
<line x1="350.75" y1="187.77" x2="351.95" y2="187.77" stroke="#888" stroke-width="0.4" />
<line x1="350.75" y1="188.25" x2="351.95" y2="188.25" stroke="#888" stroke-width="0.4" />
<rect x="350.2" y="188.25" width="2.3" height="6.05" fill="#0a0a0a" stroke="#000" stroke-width="0.5" />
<line x1="355.76" y1="190.41" x2="355.76" y2="190.84" stroke="#888" stroke-width="0.4" />
<line x1="355.16" y1="190.41" x2="356.36" y2="190.41" stroke="#888" stroke-width="0.4" />
<line x1="355.16" y1="190.84" x2="356.36" y2="190.84" stroke="#888" stroke-width="0.4" />
<rect x="354.61" y="190.84" width="2.3" height="3.46" fill="#0a0a0a" stroke="#000" stroke-width="0.5" />
<line x1="360.17" y1="163.82" x2="360.17" y2="166.08" stroke="#888" stroke-width="0.4" />
<line x1="359.57" y1="163.82" x2="360.77" y2="163.82" stroke="#888" stroke-width="0.4" />
<line x1="359.57" y1="166.08" x2="360.77" y2="166.08" stroke="#888" stroke-width="0.4" />
<rect x="359.02" y="166.08" width="2.3" height="28.22" fill="#0a0a0a" stroke="#000" stroke-width="0.5" />
<line x1="364.58" y1="187.77" x2="364.58" y2="188.25" stroke="#888" stroke-width="0.4" />
<line x1="363.98" y1="187.77" x2="365.18" y2="187.77" stroke="#888" stroke-width="0.4" />
<line x1="363.98" y1="188.25" x2="365.18" y2="188.25" stroke="#888" stroke-width="0.4" />
<rect x="363.43" y="188.25" width="2.3" height="6.05" fill="#0a0a0a" stroke="#000" stroke-width="0.5" />
<line x1="368.99" y1="140.49" x2="368.99" y2="144.48" stroke="#888" stroke-width="0.4" />
<line x1="368.39" y1="140.49" x2="369.59" y2="140.49" stroke="#888" stroke-width="0.4" />
<line x1="368.39" y1="144.48" x2="369.59" y2="144.48" stroke="#888" stroke-width="0.4" />
<rect x="367.84" y="144.48" width="2.3" height="49.82" fill="#0a0a0a" stroke="#000" stroke-width="0.5" />
<line x1="373.4" y1="162.57" x2="373.4" y2="164.92" stroke="#888" stroke-width="0.4" />
<line x1="372.8" y1="162.57" x2="374" y2="162.57" stroke="#888" stroke-width="0.4" />
<line x1="372.8" y1="164.92" x2="374" y2="164.92" stroke="#888" stroke-width="0.4" />
<rect x="372.25" y="164.92" width="2.3" height="29.38" fill="#0a0a0a" stroke="#000" stroke-width="0.5" />
<line x1="284" y1="200.3" x2="286.4" y2="200.3" stroke="#222" stroke-width="0.9" />
<text x="289.61" y="201.34" font-size="2.9" fill="#222" stroke="#222" stroke-width="0.25" font-weight="bold" text-anchor="middle" transform="rotate(-90 289.61 200.3)" >2h</text>
<text x="294.02" y="201.34" font-size="2.9" fill="#222" stroke="#222" stroke-width="0.25" font-weight="bold" text-anchor="middle" transform="rotate(-90 294.02 200.3)" >16h</text>
<line x1="288.11" y1="204.3" x2="295.52" y2="204.3" stroke="#444" stroke-width="0.8" />
<text x="292.62" y="209.77" font-size="3.8" fill="#222" stroke="#222" stroke-width="0.25" font-weight="bold" text-anchor="middle" textLength="2.1" lengthAdjust="spacingAndGlyphs" >3</text>
<text x="298.43" y="201.34" font-size="2.9" fill="#222" stroke="#222" stroke-width="0.25" font-weight="bold" text-anchor="middle" transform="rotate(-90 298.43 200.3)" >2h</text>
<text x="302.84" y="201.34" font-size="2.9" fill="#222" stroke="#222" stroke-width="0.25" font-weight="bold" text-anchor="middle" transform="rotate(-90 302.84 200.3)" >16h</text>
<line x1="296.93" y1="204.3" x2="304.34" y2="204.3" stroke="#444" stroke-width="0.8" />
<text x="301.44" y="209.77" font-size="3.8" fill="#222" stroke="#222" stroke-width="0.25" font-weight="bold" text-anchor="middle" textLength="4.2" lengthAdjust="spacingAndGlyphs" >10</text>
<text x="307.25" y="201.34" font-size="2.9" fill="#222" stroke="#222" stroke-width="0.25" font-weight="bold" text-anchor="middle" transform="rotate(-90 307.25 200.3)" >2h</text>
<text x="311.66" y="201.34" font-size="2.9" fill="#222" stroke="#222" stroke-width="0.25" font-weight="bold" text-anchor="middle" transform="rotate(-90 311.66 200.3)" >16h</text>
<line x1="305.75" y1="204.3" x2="313.16" y2="204.3" stroke="#444" stroke-width="0.8" />
<text x="310.25" y="209.77" font-size="3.8" fill="#222" stroke="#222" stroke-width="0.25" font-weight="bold" text-anchor="middle" textLength="4.2" lengthAdjust="spacingAndGlyphs" >30</text>
<line x1="314.87" y1="200.3" x2="317.27" y2="200.3" stroke="#222" stroke-width="0.9" />
<text x="320.48" y="201.34" font-size="2.9" fill="#222" stroke="#222" stroke-width="0.25" font-weight="bold" text-anchor="middle" transform="rotate(-90 320.48 200.3)" >2h</text>
<text x="324.89" y="201.34" font-size="2.9" fill="#222" stroke="#222" stroke-width="0.25" font-weight="bold" text-anchor="middle" transform="rotate(-90 324.89 200.3)" >16h</text>
<line x1="318.98" y1="204.3" x2="326.39" y2="204.3" stroke="#444" stroke-width="0.8" />
<text x="323.49" y="209.77" font-size="3.8" fill="#222" stroke="#222" stroke-width="0.25" font-weight="bold" text-anchor="middle" textLength="2.1" lengthAdjust="spacingAndGlyphs" >3</text>
<text x="329.3" y="201.34" font-size="2.9" fill="#222" stroke="#222" stroke-width="0.25" font-weight="bold" text-anchor="middle" transform="rotate(-90 329.3 200.3)" >2h</text>
<text x="333.71" y="201.34" font-size="2.9" fill="#222" stroke="#222" stroke-width="0.25" font-weight="bold" text-anchor="middle" transform="rotate(-90 333.71 200.3)" >16h</text>
<line x1="327.8" y1="204.3" x2="335.21" y2="204.3" stroke="#444" stroke-width="0.8" />
<text x="332.31" y="209.77" font-size="3.8" fill="#222" stroke="#222" stroke-width="0.25" font-weight="bold" text-anchor="middle" textLength="4.2" lengthAdjust="spacingAndGlyphs" >10</text>
<text x="338.12" y="201.34" font-size="2.9" fill="#222" stroke="#222" stroke-width="0.25" font-weight="bold" text-anchor="middle" transform="rotate(-90 338.12 200.3)" >2h</text>
<text x="342.53" y="201.34" font-size="2.9" fill="#222" stroke="#222" stroke-width="0.25" font-weight="bold" text-anchor="middle" transform="rotate(-90 342.53 200.3)" >16h</text>
<line x1="336.62" y1="204.3" x2="344.03" y2="204.3" stroke="#444" stroke-width="0.8" />
<text x="341.12" y="209.77" font-size="3.8" fill="#222" stroke="#222" stroke-width="0.25" font-weight="bold" text-anchor="middle" textLength="4.2" lengthAdjust="spacingAndGlyphs" >30</text>
<line x1="345.74" y1="200.3" x2="348.14" y2="200.3" stroke="#222" stroke-width="0.9" />
<text x="351.35" y="201.34" font-size="2.9" fill="#222" stroke="#222" stroke-width="0.25" font-weight="bold" text-anchor="middle" transform="rotate(-90 351.35 200.3)" >2h</text>
<text x="355.76" y="201.34" font-size="2.9" fill="#222" stroke="#222" stroke-width="0.25" font-weight="bold" text-anchor="middle" transform="rotate(-90 355.76 200.3)" >16h</text>
<line x1="349.85" y1="204.3" x2="357.26" y2="204.3" stroke="#444" stroke-width="0.8" />
<text x="354.36" y="209.77" font-size="3.8" fill="#222" stroke="#222" stroke-width="0.25" font-weight="bold" text-anchor="middle" textLength="2.1" lengthAdjust="spacingAndGlyphs" >3</text>
<text x="360.17" y="201.34" font-size="2.9" fill="#222" stroke="#222" stroke-width="0.25" font-weight="bold" text-anchor="middle" transform="rotate(-90 360.17 200.3)" >2h</text>
<text x="364.58" y="201.34" font-size="2.9" fill="#222" stroke="#222" stroke-width="0.25" font-weight="bold" text-anchor="middle" transform="rotate(-90 364.58 200.3)" >16h</text>
<line x1="358.67" y1="204.3" x2="366.08" y2="204.3" stroke="#444" stroke-width="0.8" />
<text x="363.18" y="209.77" font-size="3.8" fill="#222" stroke="#222" stroke-width="0.25" font-weight="bold" text-anchor="middle" textLength="4.2" lengthAdjust="spacingAndGlyphs" >10</text>
<text x="368.99" y="201.34" font-size="2.9" fill="#222" stroke="#222" stroke-width="0.25" font-weight="bold" text-anchor="middle" transform="rotate(-90 368.99 200.3)" >2h</text>
<text x="373.4" y="201.34" font-size="2.9" fill="#222" stroke="#222" stroke-width="0.25" font-weight="bold" text-anchor="middle" transform="rotate(-90 373.4 200.3)" >16h</text>
<line x1="367.49" y1="204.3" x2="374.9" y2="204.3" stroke="#444" stroke-width="0.8" />
<text x="372" y="209.77" font-size="3.8" fill="#222" stroke="#222" stroke-width="0.25" font-weight="bold" text-anchor="middle" textLength="4.2" lengthAdjust="spacingAndGlyphs" >30</text>
<path d="M283.4 211.7L283.8 213.3L313.26 213.3L313.86 212.1L314.46 213.3L344.13 213.3L344.74 212.1L345.34 213.3L374.8 213.3L375.2 211.7" fill="none" stroke="#222" stroke-width="0.7"/>
<text x="299.03" y="219.94" font-size="5.4" fill="#111" stroke="#111" stroke-width="0.25" font-weight="bold" text-anchor="middle" textLength="8" lengthAdjust="spacingAndGlyphs" >+/+</text>
<text x="329.9" y="219.94" font-size="5.4" fill="#111" stroke="#111" stroke-width="0.25" font-weight="bold" text-anchor="middle" textLength="8" lengthAdjust="spacingAndGlyphs" >+/-</text>
<text x="360.77" y="219.94" font-size="5.4" fill="#111" stroke="#111" stroke-width="0.25" font-weight="bold" text-anchor="middle" textLength="5.4" lengthAdjust="spacingAndGlyphs" >-/-</text>
<text x="274.4" y="208.8" font-size="3.6" fill="#333" stroke="#333" stroke-width="0.25" font-weight="bold" text-anchor="middle" textLength="7.2" lengthAdjust="spacingAndGlyphs" >IL-3</text>
<text x="274.1" y="214.2" font-size="3.6" fill="#333" stroke="#333" stroke-width="0.25" font-weight="bold" text-anchor="middle" textLength="14.6" lengthAdjust="spacingAndGlyphs" >(ng/mL)</text>
<rect x="378.7" y="195.9" width="2.4" height="8.2" fill="#c4c4c4" stroke="#9a9a9a" stroke-width="0.4" />
<line x1="407.3" y1="187.21" x2="500.2" y2="187.21" stroke="#8a8a8a" stroke-width="0.7" />
<line x1="407.3" y1="179.93" x2="500.2" y2="179.93" stroke="#8a8a8a" stroke-width="0.7" />
<line x1="407.3" y1="172.64" x2="500.2" y2="172.64" stroke="#8a8a8a" stroke-width="0.7" />
<line x1="407.3" y1="165.35" x2="500.2" y2="165.35" stroke="#8a8a8a" stroke-width="0.7" />
<line x1="407.3" y1="158.06" x2="500.2" y2="158.06" stroke="#8a8a8a" stroke-width="0.7" />
<line x1="407.3" y1="150.77" x2="500.2" y2="150.77" stroke="#8a8a8a" stroke-width="0.7" />
<line x1="407.3" y1="143.49" x2="500.2" y2="143.49" stroke="#8a8a8a" stroke-width="0.7" />
<rect x="407.3" y="136.2" width="92.9" height="58.3" fill="none" stroke="#8a8a8a" stroke-width="0.8" />
<text x="403.1" y="196.4" font-size="5" fill="#222" stroke="#222" stroke-width="0.25" text-anchor="middle" textLength="2.5" lengthAdjust="spacingAndGlyphs" >0</text>
<text x="403.1" y="189.11" font-size="5" fill="#222" stroke="#222" stroke-width="0.25" text-anchor="middle" textLength="2.5" lengthAdjust="spacingAndGlyphs" >1</text>
<text x="403.1" y="181.83" font-size="5" fill="#222" stroke="#222" stroke-width="0.25" text-anchor="middle" textLength="2.5" lengthAdjust="spacingAndGlyphs" >2</text>
<text x="403.1" y="174.54" font-size="5" fill="#222" stroke="#222" stroke-width="0.25" text-anchor="middle" textLength="2.5" lengthAdjust="spacingAndGlyphs" >3</text>
<text x="403.1" y="167.25" font-size="5" fill="#222" stroke="#222" stroke-width="0.25" text-anchor="middle" textLength="2.5" lengthAdjust="spacingAndGlyphs" >4</text>
<text x="403.1" y="159.96" font-size="5" fill="#222" stroke="#222" stroke-width="0.25" text-anchor="middle" textLength="2.5" lengthAdjust="spacingAndGlyphs" >5</text>
<text x="403.1" y="152.67" font-size="5" fill="#222" stroke="#222" stroke-width="0.25" text-anchor="middle" textLength="2.5" lengthAdjust="spacingAndGlyphs" >6</text>
<text x="403.1" y="145.39" font-size="5" fill="#222" stroke="#222" stroke-width="0.25" text-anchor="middle" textLength="2.5" lengthAdjust="spacingAndGlyphs" >7</text>
<text x="403.1" y="138.1" font-size="5" fill="#222" stroke="#222" stroke-width="0.25" text-anchor="middle" textLength="2.5" lengthAdjust="spacingAndGlyphs" >8</text>
<text x="411.6" y="131.1" font-size="8.4" font-weight="bold" font-style="italic" fill="#111" stroke="#111" stroke-width="0.3" textLength="51.5" lengthAdjust="spacingAndGlyphs">Oncostatin M</text>
<line x1="409.7" y1="186.63" x2="409.7" y2="187.21" stroke="#888" stroke-width="0.4" />
<line x1="409.1" y1="186.63" x2="410.3" y2="186.63" stroke="#888" stroke-width="0.4" />
<line x1="409.1" y1="187.21" x2="410.3" y2="187.21" stroke="#888" stroke-width="0.4" />
<rect x="408.4" y="187.21" width="2.6" height="7.29" fill="#fff" stroke="#8a8a8a" stroke-width="0.5" />
<line x1="414.11" y1="188.36" x2="414.11" y2="188.82" stroke="#888" stroke-width="0.4" />
<line x1="413.51" y1="188.36" x2="414.71" y2="188.36" stroke="#888" stroke-width="0.4" />
<line x1="413.51" y1="188.82" x2="414.71" y2="188.82" stroke="#888" stroke-width="0.4" />
<rect x="412.81" y="188.82" width="2.6" height="5.68" fill="#fff" stroke="#8a8a8a" stroke-width="0.5" />
<line x1="418.52" y1="188.6" x2="418.52" y2="189.03" stroke="#888" stroke-width="0.4" />
<line x1="417.92" y1="188.6" x2="419.12" y2="188.6" stroke="#888" stroke-width="0.4" />
<line x1="417.92" y1="189.03" x2="419.12" y2="189.03" stroke="#888" stroke-width="0.4" />
<rect x="417.22" y="189.03" width="2.6" height="5.47" fill="#fff" stroke="#8a8a8a" stroke-width="0.5" />
<line x1="422.93" y1="188.36" x2="422.93" y2="188.82" stroke="#888" stroke-width="0.4" />
<line x1="422.33" y1="188.36" x2="423.53" y2="188.36" stroke="#888" stroke-width="0.4" />
<line x1="422.33" y1="188.82" x2="423.53" y2="188.82" stroke="#888" stroke-width="0.4" />
<rect x="421.63" y="188.82" width="2.6" height="5.68" fill="#fff" stroke="#8a8a8a" stroke-width="0.5" />
<line x1="427.34" y1="191.37" x2="427.34" y2="191.8" stroke="#888" stroke-width="0.4" />
<line x1="426.74" y1="191.37" x2="427.94" y2="191.37" stroke="#888" stroke-width="0.4" />
<line x1="426.74" y1="191.8" x2="427.94" y2="191.8" stroke="#888" stroke-width="0.4" />
<rect x="426.04" y="191.8" width="2.6" height="2.7" fill="#fff" stroke="#8a8a8a" stroke-width="0.5" />
<line x1="431.75" y1="185.37" x2="431.75" y2="186.05" stroke="#888" stroke-width="0.4" />
<line x1="431.15" y1="185.37" x2="432.35" y2="185.37" stroke="#888" stroke-width="0.4" />
<line x1="431.15" y1="186.05" x2="432.35" y2="186.05" stroke="#888" stroke-width="0.4" />
<rect x="430.45" y="186.05" width="2.6" height="8.45" fill="#fff" stroke="#8a8a8a" stroke-width="0.5" />
<line x1="436.16" y1="187.65" x2="436.16" y2="188.16" stroke="#888" stroke-width="0.4" />
<line x1="435.56" y1="187.65" x2="436.76" y2="187.65" stroke="#888" stroke-width="0.4" />
<line x1="435.56" y1="188.16" x2="436.76" y2="188.16" stroke="#888" stroke-width="0.4" />
<rect x="434.86" y="188.16" width="2.6" height="6.34" fill="#fff" stroke="#8a8a8a" stroke-width="0.5" />
<line x1="440.57" y1="178.21" x2="440.57" y2="179.41" stroke="#888" stroke-width="0.4" />
<line x1="439.97" y1="178.21" x2="441.17" y2="178.21" stroke="#888" stroke-width="0.4" />
<line x1="439.97" y1="179.41" x2="441.17" y2="179.41" stroke="#888" stroke-width="0.4" />
<rect x="439.42" y="179.41" width="2.3" height="15.09" fill="#959595" stroke="#858585" stroke-width="0.5" />
<line x1="444.98" y1="182.14" x2="444.98" y2="183.06" stroke="#888" stroke-width="0.4" />
<line x1="444.38" y1="182.14" x2="445.58" y2="182.14" stroke="#888" stroke-width="0.4" />
<line x1="444.38" y1="183.06" x2="445.58" y2="183.06" stroke="#888" stroke-width="0.4" />
<rect x="443.83" y="183.06" width="2.3" height="11.44" fill="#959595" stroke="#858585" stroke-width="0.5" />
<line x1="449.39" y1="185.06" x2="449.39" y2="185.75" stroke="#888" stroke-width="0.4" />
<line x1="448.79" y1="185.06" x2="449.99" y2="185.06" stroke="#888" stroke-width="0.4" />
<line x1="448.79" y1="185.75" x2="449.99" y2="185.75" stroke="#888" stroke-width="0.4" />
<rect x="448.24" y="185.75" width="2.3" height="8.75" fill="#959595" stroke="#858585" stroke-width="0.5" />
<line x1="453.8" y1="176.79" x2="453.8" y2="178.1" stroke="#888" stroke-width="0.4" />
<line x1="453.2" y1="176.79" x2="454.4" y2="176.79" stroke="#888" stroke-width="0.4" />
<line x1="453.2" y1="178.1" x2="454.4" y2="178.1" stroke="#888" stroke-width="0.4" />
<rect x="452.65" y="178.1" width="2.3" height="16.4" fill="#959595" stroke="#858585" stroke-width="0.5" />
<line x1="458.21" y1="185.84" x2="458.21" y2="186.48" stroke="#888" stroke-width="0.4" />
<line x1="457.61" y1="185.84" x2="458.81" y2="185.84" stroke="#888" stroke-width="0.4" />
<line x1="457.61" y1="186.48" x2="458.81" y2="186.48" stroke="#888" stroke-width="0.4" />
<rect x="457.06" y="186.48" width="2.3" height="8.02" fill="#959595" stroke="#858585" stroke-width="0.5" />
<line x1="462.62" y1="158.3" x2="462.62" y2="160.98" stroke="#888" stroke-width="0.4" />
<line x1="462.02" y1="158.3" x2="463.22" y2="158.3" stroke="#888" stroke-width="0.4" />
<line x1="462.02" y1="160.98" x2="463.22" y2="160.98" stroke="#888" stroke-width="0.4" />
<rect x="461.47" y="160.98" width="2.3" height="33.52" fill="#959595" stroke="#858585" stroke-width="0.5" />
<line x1="467.03" y1="169.31" x2="467.03" y2="171.18" stroke="#888" stroke-width="0.4" />
<line x1="466.43" y1="169.31" x2="467.63" y2="169.31" stroke="#888" stroke-width="0.4" />
<line x1="466.43" y1="171.18" x2="467.63" y2="171.18" stroke="#888" stroke-width="0.4" />
<rect x="465.88" y="171.18" width="2.3" height="23.32" fill="#959595" stroke="#858585" stroke-width="0.5" />
<line x1="471.44" y1="181.12" x2="471.44" y2="182.11" stroke="#888" stroke-width="0.4" />
<line x1="470.84" y1="181.12" x2="472.04" y2="181.12" stroke="#888" stroke-width="0.4" />
<line x1="470.84" y1="182.11" x2="472.04" y2="182.11" stroke="#888" stroke-width="0.4" />
<rect x="470.29" y="182.11" width="2.3" height="12.39" fill="#0a0a0a" stroke="#000" stroke-width="0.5" />
<line x1="475.85" y1="185.06" x2="475.85" y2="185.75" stroke="#888" stroke-width="0.4" />
<line x1="475.25" y1="185.06" x2="476.45" y2="185.06" stroke="#888" stroke-width="0.4" />
<line x1="475.25" y1="185.75" x2="476.45" y2="185.75" stroke="#888" stroke-width="0.4" />
<rect x="474.7" y="185.75" width="2.3" height="8.75" fill="#0a0a0a" stroke="#000" stroke-width="0.5" />
<line x1="480.26" y1="185.84" x2="480.26" y2="186.48" stroke="#888" stroke-width="0.4" />
<line x1="479.66" y1="185.84" x2="480.86" y2="185.84" stroke="#888" stroke-width="0.4" />
<line x1="479.66" y1="186.48" x2="480.86" y2="186.48" stroke="#888" stroke-width="0.4" />
<rect x="479.11" y="186.48" width="2.3" height="8.02" fill="#0a0a0a" stroke="#000" stroke-width="0.5" />
<line x1="484.67" y1="166.95" x2="484.67" y2="168.99" stroke="#888" stroke-width="0.4" />
<line x1="484.07" y1="166.95" x2="485.27" y2="166.95" stroke="#888" stroke-width="0.4" />
<line x1="484.07" y1="168.99" x2="485.27" y2="168.99" stroke="#888" stroke-width="0.4" />
<rect x="483.52" y="168.99" width="2.3" height="25.51" fill="#0a0a0a" stroke="#000" stroke-width="0.5" />
<line x1="489.08" y1="185.06" x2="489.08" y2="185.75" stroke="#888" stroke-width="0.4" />
<line x1="488.48" y1="185.06" x2="489.68" y2="185.06" stroke="#888" stroke-width="0.4" />
<line x1="488.48" y1="185.75" x2="489.68" y2="185.75" stroke="#888" stroke-width="0.4" />
<rect x="487.93" y="185.75" width="2.3" height="8.75" fill="#0a0a0a" stroke="#000" stroke-width="0.5" />
<line x1="493.49" y1="139.41" x2="493.49" y2="143.49" stroke="#888" stroke-width="0.4" />
<line x1="492.89" y1="139.41" x2="494.09" y2="139.41" stroke="#888" stroke-width="0.4" />
<line x1="492.89" y1="143.49" x2="494.09" y2="143.49" stroke="#888" stroke-width="0.4" />
<rect x="492.34" y="143.49" width="2.3" height="51.01" fill="#0a0a0a" stroke="#000" stroke-width="0.5" />
<line x1="497.9" y1="164.59" x2="497.9" y2="166.81" stroke="#888" stroke-width="0.4" />
<line x1="497.3" y1="164.59" x2="498.5" y2="164.59" stroke="#888" stroke-width="0.4" />
<line x1="497.3" y1="166.81" x2="498.5" y2="166.81" stroke="#888" stroke-width="0.4" />
<rect x="496.75" y="166.81" width="2.3" height="27.69" fill="#0a0a0a" stroke="#000" stroke-width="0.5" />
<line x1="408.5" y1="200.5" x2="410.9" y2="200.5" stroke="#222" stroke-width="0.9" />
<text x="414.11" y="201.54" font-size="2.9" fill="#222" stroke="#222" stroke-width="0.25" font-weight="bold" text-anchor="middle" transform="rotate(-90 414.11 200.5)" >2h</text>
<text x="418.52" y="201.54" font-size="2.9" fill="#222" stroke="#222" stroke-width="0.25" font-weight="bold" text-anchor="middle" transform="rotate(-90 418.52 200.5)" >16h</text>
<line x1="412.61" y1="204.5" x2="420.02" y2="204.5" stroke="#444" stroke-width="0.8" />
<text x="417.12" y="209.97" font-size="3.8" fill="#222" stroke="#222" stroke-width="0.25" font-weight="bold" text-anchor="middle" textLength="2.1" lengthAdjust="spacingAndGlyphs" >3</text>
<text x="422.93" y="201.54" font-size="2.9" fill="#222" stroke="#222" stroke-width="0.25" font-weight="bold" text-anchor="middle" transform="rotate(-90 422.93 200.5)" >2h</text>
<text x="427.34" y="201.54" font-size="2.9" fill="#222" stroke="#222" stroke-width="0.25" font-weight="bold" text-anchor="middle" transform="rotate(-90 427.34 200.5)" >16h</text>
<line x1="421.43" y1="204.5" x2="428.84" y2="204.5" stroke="#444" stroke-width="0.8" />
<text x="425.94" y="209.97" font-size="3.8" fill="#222" stroke="#222" stroke-width="0.25" font-weight="bold" text-anchor="middle" textLength="4.2" lengthAdjust="spacingAndGlyphs" >10</text>
<text x="431.75" y="201.54" font-size="2.9" fill="#222" stroke="#222" stroke-width="0.25" font-weight="bold" text-anchor="middle" transform="rotate(-90 431.75 200.5)" >2h</text>
<text x="436.16" y="201.54" font-size="2.9" fill="#222" stroke="#222" stroke-width="0.25" font-weight="bold" text-anchor="middle" transform="rotate(-90 436.16 200.5)" >16h</text>
<line x1="430.25" y1="204.5" x2="437.66" y2="204.5" stroke="#444" stroke-width="0.8" />
<text x="434.75" y="209.97" font-size="3.8" fill="#222" stroke="#222" stroke-width="0.25" font-weight="bold" text-anchor="middle" textLength="4.2" lengthAdjust="spacingAndGlyphs" >30</text>
<line x1="439.37" y1="200.5" x2="441.77" y2="200.5" stroke="#222" stroke-width="0.9" />
<text x="444.98" y="201.54" font-size="2.9" fill="#222" stroke="#222" stroke-width="0.25" font-weight="bold" text-anchor="middle" transform="rotate(-90 444.98 200.5)" >2h</text>
<text x="449.39" y="201.54" font-size="2.9" fill="#222" stroke="#222" stroke-width="0.25" font-weight="bold" text-anchor="middle" transform="rotate(-90 449.39 200.5)" >16h</text>
<line x1="443.48" y1="204.5" x2="450.89" y2="204.5" stroke="#444" stroke-width="0.8" />
<text x="447.99" y="209.97" font-size="3.8" fill="#222" stroke="#222" stroke-width="0.25" font-weight="bold" text-anchor="middle" textLength="2.1" lengthAdjust="spacingAndGlyphs" >3</text>
<text x="453.8" y="201.54" font-size="2.9" fill="#222" stroke="#222" stroke-width="0.25" font-weight="bold" text-anchor="middle" transform="rotate(-90 453.8 200.5)" >2h</text>
<text x="458.21" y="201.54" font-size="2.9" fill="#222" stroke="#222" stroke-width="0.25" font-weight="bold" text-anchor="middle" transform="rotate(-90 458.21 200.5)" >16h</text>
<line x1="452.3" y1="204.5" x2="459.71" y2="204.5" stroke="#444" stroke-width="0.8" />
<text x="456.81" y="209.97" font-size="3.8" fill="#222" stroke="#222" stroke-width="0.25" font-weight="bold" text-anchor="middle" textLength="4.2" lengthAdjust="spacingAndGlyphs" >10</text>
<text x="462.62" y="201.54" font-size="2.9" fill="#222" stroke="#222" stroke-width="0.25" font-weight="bold" text-anchor="middle" transform="rotate(-90 462.62 200.5)" >2h</text>
<text x="467.03" y="201.54" font-size="2.9" fill="#222" stroke="#222" stroke-width="0.25" font-weight="bold" text-anchor="middle" transform="rotate(-90 467.03 200.5)" >16h</text>
<line x1="461.12" y1="204.5" x2="468.53" y2="204.5" stroke="#444" stroke-width="0.8" />
<text x="465.62" y="209.97" font-size="3.8" fill="#222" stroke="#222" stroke-width="0.25" font-weight="bold" text-anchor="middle" textLength="4.2" lengthAdjust="spacingAndGlyphs" >30</text>
<line x1="470.24" y1="200.5" x2="472.64" y2="200.5" stroke="#222" stroke-width="0.9" />
<text x="475.85" y="201.54" font-size="2.9" fill="#222" stroke="#222" stroke-width="0.25" font-weight="bold" text-anchor="middle" transform="rotate(-90 475.85 200.5)" >2h</text>
<text x="480.26" y="201.54" font-size="2.9" fill="#222" stroke="#222" stroke-width="0.25" font-weight="bold" text-anchor="middle" transform="rotate(-90 480.26 200.5)" >16h</text>
<line x1="474.35" y1="204.5" x2="481.76" y2="204.5" stroke="#444" stroke-width="0.8" />
<text x="478.86" y="209.97" font-size="3.8" fill="#222" stroke="#222" stroke-width="0.25" font-weight="bold" text-anchor="middle" textLength="2.1" lengthAdjust="spacingAndGlyphs" >3</text>
<text x="484.67" y="201.54" font-size="2.9" fill="#222" stroke="#222" stroke-width="0.25" font-weight="bold" text-anchor="middle" transform="rotate(-90 484.67 200.5)" >2h</text>
<text x="489.08" y="201.54" font-size="2.9" fill="#222" stroke="#222" stroke-width="0.25" font-weight="bold" text-anchor="middle" transform="rotate(-90 489.08 200.5)" >16h</text>
<line x1="483.17" y1="204.5" x2="490.58" y2="204.5" stroke="#444" stroke-width="0.8" />
<text x="487.68" y="209.97" font-size="3.8" fill="#222" stroke="#222" stroke-width="0.25" font-weight="bold" text-anchor="middle" textLength="4.2" lengthAdjust="spacingAndGlyphs" >10</text>
<text x="493.49" y="201.54" font-size="2.9" fill="#222" stroke="#222" stroke-width="0.25" font-weight="bold" text-anchor="middle" transform="rotate(-90 493.49 200.5)" >2h</text>
<text x="497.9" y="201.54" font-size="2.9" fill="#222" stroke="#222" stroke-width="0.25" font-weight="bold" text-anchor="middle" transform="rotate(-90 497.9 200.5)" >16h</text>
<line x1="491.99" y1="204.5" x2="499.4" y2="204.5" stroke="#444" stroke-width="0.8" />
<text x="496.5" y="209.97" font-size="3.8" fill="#222" stroke="#222" stroke-width="0.25" font-weight="bold" text-anchor="middle" textLength="4.2" lengthAdjust="spacingAndGlyphs" >30</text>
<path d="M407.9 211.9L408.3 213.5L437.76 213.5L438.36 212.3L438.96 213.5L468.63 213.5L469.24 212.3L469.84 213.5L499.3 213.5L499.7 211.9" fill="none" stroke="#222" stroke-width="0.7"/>
<text x="423.53" y="220.14" font-size="5.4" fill="#111" stroke="#111" stroke-width="0.25" font-weight="bold" text-anchor="middle" textLength="8" lengthAdjust="spacingAndGlyphs" >+/+</text>
<text x="454.4" y="220.14" font-size="5.4" fill="#111" stroke="#111" stroke-width="0.25" font-weight="bold" text-anchor="middle" textLength="8" lengthAdjust="spacingAndGlyphs" >+/-</text>
<text x="485.27" y="220.14" font-size="5.4" fill="#111" stroke="#111" stroke-width="0.25" font-weight="bold" text-anchor="middle" textLength="5.4" lengthAdjust="spacingAndGlyphs" >-/-</text>
<text x="398.3" y="209" font-size="3.6" fill="#333" stroke="#333" stroke-width="0.25" font-weight="bold" text-anchor="middle" textLength="7.2" lengthAdjust="spacingAndGlyphs" >IL-3</text>
<text x="398" y="214.4" font-size="3.6" fill="#333" stroke="#333" stroke-width="0.25" font-weight="bold" text-anchor="middle" textLength="14.6" lengthAdjust="spacingAndGlyphs" >(ng/mL)</text>
<rect x="503.3" y="196.1" width="2.4" height="8.2" fill="#c4c4c4" stroke="#9a9a9a" stroke-width="0.4" />
<line x1="283.3" y1="297.14" x2="374.6" y2="297.14" stroke="#8a8a8a" stroke-width="0.7" />
<line x1="283.3" y1="289.88" x2="374.6" y2="289.88" stroke="#8a8a8a" stroke-width="0.7" />
<line x1="283.3" y1="282.61" x2="374.6" y2="282.61" stroke="#8a8a8a" stroke-width="0.7" />
<line x1="283.3" y1="275.35" x2="374.6" y2="275.35" stroke="#8a8a8a" stroke-width="0.7" />
<line x1="283.3" y1="268.09" x2="374.6" y2="268.09" stroke="#8a8a8a" stroke-width="0.7" />
<line x1="283.3" y1="260.82" x2="374.6" y2="260.82" stroke="#8a8a8a" stroke-width="0.7" />
<line x1="283.3" y1="253.56" x2="374.6" y2="253.56" stroke="#8a8a8a" stroke-width="0.7" />
<rect x="283.3" y="246.3" width="91.3" height="58.1" fill="none" stroke="#8a8a8a" stroke-width="0.8" />
<text x="278.6" y="306.3" font-size="5" fill="#222" stroke="#222" stroke-width="0.25" text-anchor="middle" textLength="2.5" lengthAdjust="spacingAndGlyphs" >0</text>
<text x="278.6" y="299.04" font-size="5" fill="#222" stroke="#222" stroke-width="0.25" text-anchor="middle" textLength="2.5" lengthAdjust="spacingAndGlyphs" >1</text>
<text x="278.6" y="291.78" font-size="5" fill="#222" stroke="#222" stroke-width="0.25" text-anchor="middle" textLength="2.5" lengthAdjust="spacingAndGlyphs" >2</text>
<text x="278.6" y="284.51" font-size="5" fill="#222" stroke="#222" stroke-width="0.25" text-anchor="middle" textLength="2.5" lengthAdjust="spacingAndGlyphs" >3</text>
<text x="278.6" y="277.25" font-size="5" fill="#222" stroke="#222" stroke-width="0.25" text-anchor="middle" textLength="2.5" lengthAdjust="spacingAndGlyphs" >4</text>
<text x="278.6" y="269.99" font-size="5" fill="#222" stroke="#222" stroke-width="0.25" text-anchor="middle" textLength="2.5" lengthAdjust="spacingAndGlyphs" >5</text>
<text x="278.6" y="262.73" font-size="5" fill="#222" stroke="#222" stroke-width="0.25" text-anchor="middle" textLength="2.5" lengthAdjust="spacingAndGlyphs" >6</text>
<text x="278.6" y="255.46" font-size="5" fill="#222" stroke="#222" stroke-width="0.25" text-anchor="middle" textLength="2.5" lengthAdjust="spacingAndGlyphs" >7</text>
<text x="278.6" y="248.2" font-size="5" fill="#222" stroke="#222" stroke-width="0.25" text-anchor="middle" textLength="2.5" lengthAdjust="spacingAndGlyphs" >8</text>
<text x="287.3" y="241.2" font-size="8.4" font-weight="bold" font-style="italic" fill="#111" stroke="#111" stroke-width="0.3" textLength="19.2" lengthAdjust="spacingAndGlyphs">Bcl-x</text>
<line x1="285.2" y1="296.16" x2="285.2" y2="296.77" stroke="#888" stroke-width="0.4" />
<line x1="284.6" y1="296.16" x2="285.8" y2="296.16" stroke="#888" stroke-width="0.4" />
<line x1="284.6" y1="296.77" x2="285.8" y2="296.77" stroke="#888" stroke-width="0.4" />
<rect x="283.9" y="296.77" width="2.6" height="7.63" fill="#fff" stroke="#8a8a8a" stroke-width="0.5" />
<line x1="289.61" y1="297.34" x2="289.61" y2="297.86" stroke="#888" stroke-width="0.4" />
<line x1="289.01" y1="297.34" x2="290.21" y2="297.34" stroke="#888" stroke-width="0.4" />
<line x1="289.01" y1="297.86" x2="290.21" y2="297.86" stroke="#888" stroke-width="0.4" />
<rect x="288.31" y="297.86" width="2.6" height="6.54" fill="#fff" stroke="#8a8a8a" stroke-width="0.5" />
<line x1="294.02" y1="297.73" x2="294.02" y2="298.23" stroke="#888" stroke-width="0.4" />
<line x1="293.42" y1="297.73" x2="294.62" y2="297.73" stroke="#888" stroke-width="0.4" />
<line x1="293.42" y1="298.23" x2="294.62" y2="298.23" stroke="#888" stroke-width="0.4" />
<rect x="292.72" y="298.23" width="2.6" height="6.17" fill="#fff" stroke="#8a8a8a" stroke-width="0.5" />
<line x1="298.43" y1="296.95" x2="298.43" y2="297.5" stroke="#888" stroke-width="0.4" />
<line x1="297.83" y1="296.95" x2="299.03" y2="296.95" stroke="#888" stroke-width="0.4" />
<line x1="297.83" y1="297.5" x2="299.03" y2="297.5" stroke="#888" stroke-width="0.4" />
<rect x="297.13" y="297.5" width="2.6" height="6.9" fill="#fff" stroke="#8a8a8a" stroke-width="0.5" />
<line x1="302.84" y1="296.95" x2="302.84" y2="297.5" stroke="#888" stroke-width="0.4" />
<line x1="302.24" y1="296.95" x2="303.44" y2="296.95" stroke="#888" stroke-width="0.4" />
<line x1="302.24" y1="297.5" x2="303.44" y2="297.5" stroke="#888" stroke-width="0.4" />
<rect x="301.54" y="297.5" width="2.6" height="6.9" fill="#fff" stroke="#8a8a8a" stroke-width="0.5" />
<line x1="307.25" y1="296.95" x2="307.25" y2="297.5" stroke="#888" stroke-width="0.4" />
<line x1="306.65" y1="296.95" x2="307.85" y2="296.95" stroke="#888" stroke-width="0.4" />
<line x1="306.65" y1="297.5" x2="307.85" y2="297.5" stroke="#888" stroke-width="0.4" />
<rect x="305.95" y="297.5" width="2.6" height="6.9" fill="#fff" stroke="#8a8a8a" stroke-width="0.5" />
<line x1="311.66" y1="293.81" x2="311.66" y2="294.6" stroke="#888" stroke-width="0.4" />
<line x1="311.06" y1="293.81" x2="312.26" y2="293.81" stroke="#888" stroke-width="0.4" />
<line x1="311.06" y1="294.6" x2="312.26" y2="294.6" stroke="#888" stroke-width="0.4" />
<rect x="310.36" y="294.6" width="2.6" height="9.8" fill="#fff" stroke="#8a8a8a" stroke-width="0.5" />
<line x1="316.07" y1="298.13" x2="316.07" y2="298.59" stroke="#888" stroke-width="0.4" />
<line x1="315.47" y1="298.13" x2="316.67" y2="298.13" stroke="#888" stroke-width="0.4" />
<line x1="315.47" y1="298.59" x2="316.67" y2="298.59" stroke="#888" stroke-width="0.4" />
<rect x="314.92" y="298.59" width="2.3" height="5.81" fill="#959595" stroke="#858585" stroke-width="0.5" />
<line x1="320.48" y1="297.34" x2="320.48" y2="297.86" stroke="#888" stroke-width="0.4" />
<line x1="319.88" y1="297.34" x2="321.08" y2="297.34" stroke="#888" stroke-width="0.4" />
<line x1="319.88" y1="297.86" x2="321.08" y2="297.86" stroke="#888" stroke-width="0.4" />
<rect x="319.33" y="297.86" width="2.3" height="6.54" fill="#959595" stroke="#858585" stroke-width="0.5" />
<line x1="324.89" y1="298.13" x2="324.89" y2="298.59" stroke="#888" stroke-width="0.4" />
<line x1="324.29" y1="298.13" x2="325.49" y2="298.13" stroke="#888" stroke-width="0.4" />
<line x1="324.29" y1="298.59" x2="325.49" y2="298.59" stroke="#888" stroke-width="0.4" />
<rect x="323.74" y="298.59" width="2.3" height="5.81" fill="#959595" stroke="#858585" stroke-width="0.5" />
<line x1="329.3" y1="296.16" x2="329.3" y2="296.77" stroke="#888" stroke-width="0.4" />
<line x1="328.7" y1="296.16" x2="329.9" y2="296.16" stroke="#888" stroke-width="0.4" />
<line x1="328.7" y1="296.77" x2="329.9" y2="296.77" stroke="#888" stroke-width="0.4" />
<rect x="328.15" y="296.77" width="2.3" height="7.63" fill="#959595" stroke="#858585" stroke-width="0.5" />
<line x1="333.71" y1="292.63" x2="333.71" y2="293.51" stroke="#888" stroke-width="0.4" />
<line x1="333.11" y1="292.63" x2="334.31" y2="292.63" stroke="#888" stroke-width="0.4" />
<line x1="333.11" y1="293.51" x2="334.31" y2="293.51" stroke="#888" stroke-width="0.4" />
<rect x="332.56" y="293.51" width="2.3" height="10.89" fill="#959595" stroke="#858585" stroke-width="0.5" />
<line x1="338.12" y1="296.16" x2="338.12" y2="296.77" stroke="#888" stroke-width="0.4" />
<line x1="337.52" y1="296.16" x2="338.72" y2="296.16" stroke="#888" stroke-width="0.4" />
<line x1="337.52" y1="296.77" x2="338.72" y2="296.77" stroke="#888" stroke-width="0.4" />
<rect x="336.97" y="296.77" width="2.3" height="7.63" fill="#959595" stroke="#858585" stroke-width="0.5" />
<line x1="342.53" y1="284.01" x2="342.53" y2="285.52" stroke="#888" stroke-width="0.4" />
<line x1="341.93" y1="284.01" x2="343.13" y2="284.01" stroke="#888" stroke-width="0.4" />
<line x1="341.93" y1="285.52" x2="343.13" y2="285.52" stroke="#888" stroke-width="0.4" />
<rect x="341.38" y="285.52" width="2.3" height="18.88" fill="#959595" stroke="#858585" stroke-width="0.5" />
<line x1="346.94" y1="298.88" x2="346.94" y2="299.32" stroke="#888" stroke-width="0.4" />
<line x1="346.34" y1="298.88" x2="347.54" y2="298.88" stroke="#888" stroke-width="0.4" />
<line x1="346.34" y1="299.32" x2="347.54" y2="299.32" stroke="#888" stroke-width="0.4" />
<rect x="345.79" y="299.32" width="2.3" height="5.08" fill="#0a0a0a" stroke="#000" stroke-width="0.5" />
<line x1="351.35" y1="297.73" x2="351.35" y2="298.23" stroke="#888" stroke-width="0.4" />
<line x1="350.75" y1="297.73" x2="351.95" y2="297.73" stroke="#888" stroke-width="0.4" />
<line x1="350.75" y1="298.23" x2="351.95" y2="298.23" stroke="#888" stroke-width="0.4" />
<rect x="350.2" y="298.23" width="2.3" height="6.17" fill="#0a0a0a" stroke="#000" stroke-width="0.5" />
<line x1="355.76" y1="295.77" x2="355.76" y2="296.41" stroke="#888" stroke-width="0.4" />
<line x1="355.16" y1="295.77" x2="356.36" y2="295.77" stroke="#888" stroke-width="0.4" />
<line x1="355.16" y1="296.41" x2="356.36" y2="296.41" stroke="#888" stroke-width="0.4" />
<rect x="354.61" y="296.41" width="2.3" height="7.99" fill="#0a0a0a" stroke="#000" stroke-width="0.5" />
<line x1="360.17" y1="295.38" x2="360.17" y2="296.05" stroke="#888" stroke-width="0.4" />
<line x1="359.57" y1="295.38" x2="360.77" y2="295.38" stroke="#888" stroke-width="0.4" />
<line x1="359.57" y1="296.05" x2="360.77" y2="296.05" stroke="#888" stroke-width="0.4" />
<rect x="359.02" y="296.05" width="2.3" height="8.35" fill="#0a0a0a" stroke="#000" stroke-width="0.5" />
<line x1="364.58" y1="291.07" x2="364.58" y2="292.05" stroke="#888" stroke-width="0.4" />
<line x1="363.98" y1="291.07" x2="365.18" y2="291.07" stroke="#888" stroke-width="0.4" />
<line x1="363.98" y1="292.05" x2="365.18" y2="292.05" stroke="#888" stroke-width="0.4" />
<rect x="363.43" y="292.05" width="2.3" height="12.35" fill="#0a0a0a" stroke="#000" stroke-width="0.5" />
<line x1="368.99" y1="294.6" x2="368.99" y2="295.32" stroke="#888" stroke-width="0.4" />
<line x1="368.39" y1="294.6" x2="369.59" y2="294.6" stroke="#888" stroke-width="0.4" />
<line x1="368.39" y1="295.32" x2="369.59" y2="295.32" stroke="#888" stroke-width="0.4" />
<rect x="367.84" y="295.32" width="2.3" height="9.08" fill="#0a0a0a" stroke="#000" stroke-width="0.5" />
<line x1="373.4" y1="248.71" x2="373.4" y2="252.84" stroke="#888" stroke-width="0.4" />
<line x1="372.8" y1="248.71" x2="374" y2="248.71" stroke="#888" stroke-width="0.4" />
<line x1="372.8" y1="252.84" x2="374" y2="252.84" stroke="#888" stroke-width="0.4" />
<rect x="372.25" y="252.84" width="2.3" height="51.56" fill="#0a0a0a" stroke="#000" stroke-width="0.5" />
<line x1="284" y1="310.4" x2="286.4" y2="310.4" stroke="#222" stroke-width="0.9" />
<text x="289.61" y="311.44" font-size="2.9" fill="#222" stroke="#222" stroke-width="0.25" font-weight="bold" text-anchor="middle" transform="rotate(-90 289.61 310.4)" >2h</text>
<text x="294.02" y="311.44" font-size="2.9" fill="#222" stroke="#222" stroke-width="0.25" font-weight="bold" text-anchor="middle" transform="rotate(-90 294.02 310.4)" >16h</text>
<line x1="288.11" y1="314.4" x2="295.52" y2="314.4" stroke="#444" stroke-width="0.8" />
<text x="292.62" y="319.87" font-size="3.8" fill="#222" stroke="#222" stroke-width="0.25" font-weight="bold" text-anchor="middle" textLength="2.1" lengthAdjust="spacingAndGlyphs" >3</text>
<text x="298.43" y="311.44" font-size="2.9" fill="#222" stroke="#222" stroke-width="0.25" font-weight="bold" text-anchor="middle" transform="rotate(-90 298.43 310.4)" >2h</text>
<text x="302.84" y="311.44" font-size="2.9" fill="#222" stroke="#222" stroke-width="0.25" font-weight="bold" text-anchor="middle" transform="rotate(-90 302.84 310.4)" >16h</text>
<line x1="296.93" y1="314.4" x2="304.34" y2="314.4" stroke="#444" stroke-width="0.8" />
<text x="301.44" y="319.87" font-size="3.8" fill="#222" stroke="#222" stroke-width="0.25" font-weight="bold" text-anchor="middle" textLength="4.2" lengthAdjust="spacingAndGlyphs" >10</text>
<text x="307.25" y="311.44" font-size="2.9" fill="#222" stroke="#222" stroke-width="0.25" font-weight="bold" text-anchor="middle" transform="rotate(-90 307.25 310.4)" >2h</text>
<text x="311.66" y="311.44" font-size="2.9" fill="#222" stroke="#222" stroke-width="0.25" font-weight="bold" text-anchor="middle" transform="rotate(-90 311.66 310.4)" >16h</text>
<line x1="305.75" y1="314.4" x2="313.16" y2="314.4" stroke="#444" stroke-width="0.8" />
<text x="310.25" y="319.87" font-size="3.8" fill="#222" stroke="#222" stroke-width="0.25" font-weight="bold" text-anchor="middle" textLength="4.2" lengthAdjust="spacingAndGlyphs" >30</text>
<line x1="314.87" y1="310.4" x2="317.27" y2="310.4" stroke="#222" stroke-width="0.9" />
<text x="320.48" y="311.44" font-size="2.9" fill="#222" stroke="#222" stroke-width="0.25" font-weight="bold" text-anchor="middle" transform="rotate(-90 320.48 310.4)" >2h</text>
<text x="324.89" y="311.44" font-size="2.9" fill="#222" stroke="#222" stroke-width="0.25" font-weight="bold" text-anchor="middle" transform="rotate(-90 324.89 310.4)" >16h</text>
<line x1="318.98" y1="314.4" x2="326.39" y2="314.4" stroke="#444" stroke-width="0.8" />
<text x="323.49" y="319.87" font-size="3.8" fill="#222" stroke="#222" stroke-width="0.25" font-weight="bold" text-anchor="middle" textLength="2.1" lengthAdjust="spacingAndGlyphs" >3</text>
<text x="329.3" y="311.44" font-size="2.9" fill="#222" stroke="#222" stroke-width="0.25" font-weight="bold" text-anchor="middle" transform="rotate(-90 329.3 310.4)" >2h</text>
<text x="333.71" y="311.44" font-size="2.9" fill="#222" stroke="#222" stroke-width="0.25" font-weight="bold" text-anchor="middle" transform="rotate(-90 333.71 310.4)" >16h</text>
<line x1="327.8" y1="314.4" x2="335.21" y2="314.4" stroke="#444" stroke-width="0.8" />
<text x="332.31" y="319.87" font-size="3.8" fill="#222" stroke="#222" stroke-width="0.25" font-weight="bold" text-anchor="middle" textLength="4.2" lengthAdjust="spacingAndGlyphs" >10</text>
<text x="338.12" y="311.44" font-size="2.9" fill="#222" stroke="#222" stroke-width="0.25" font-weight="bold" text-anchor="middle" transform="rotate(-90 338.12 310.4)" >2h</text>
<text x="342.53" y="311.44" font-size="2.9" fill="#222" stroke="#222" stroke-width="0.25" font-weight="bold" text-anchor="middle" transform="rotate(-90 342.53 310.4)" >16h</text>
<line x1="336.62" y1="314.4" x2="344.03" y2="314.4" stroke="#444" stroke-width="0.8" />
<text x="341.12" y="319.87" font-size="3.8" fill="#222" stroke="#222" stroke-width="0.25" font-weight="bold" text-anchor="middle" textLength="4.2" lengthAdjust="spacingAndGlyphs" >30</text>
<line x1="345.74" y1="310.4" x2="348.14" y2="310.4" stroke="#222" stroke-width="0.9" />
<text x="351.35" y="311.44" font-size="2.9" fill="#222" stroke="#222" stroke-width="0.25" font-weight="bold" text-anchor="middle" transform="rotate(-90 351.35 310.4)" >2h</text>
<text x="355.76" y="311.44" font-size="2.9" fill="#222" stroke="#222" stroke-width="0.25" font-weight="bold" text-anchor="middle" transform="rotate(-90 355.76 310.4)" >16h</text>
<line x1="349.85" y1="314.4" x2="357.26" y2="314.4" stroke="#444" stroke-width="0.8" />
<text x="354.36" y="319.87" font-size="3.8" fill="#222" stroke="#222" stroke-width="0.25" font-weight="bold" text-anchor="middle" textLength="2.1" lengthAdjust="spacingAndGlyphs" >3</text>
<text x="360.17" y="311.44" font-size="2.9" fill="#222" stroke="#222" stroke-width="0.25" font-weight="bold" text-anchor="middle" transform="rotate(-90 360.17 310.4)" >2h</text>
<text x="364.58" y="311.44" font-size="2.9" fill="#222" stroke="#222" stroke-width="0.25" font-weight="bold" text-anchor="middle" transform="rotate(-90 364.58 310.4)" >16h</text>
<line x1="358.67" y1="314.4" x2="366.08" y2="314.4" stroke="#444" stroke-width="0.8" />
<text x="363.18" y="319.87" font-size="3.8" fill="#222" stroke="#222" stroke-width="0.25" font-weight="bold" text-anchor="middle" textLength="4.2" lengthAdjust="spacingAndGlyphs" >10</text>
<text x="368.99" y="311.44" font-size="2.9" fill="#222" stroke="#222" stroke-width="0.25" font-weight="bold" text-anchor="middle" transform="rotate(-90 368.99 310.4)" >2h</text>
<text x="373.4" y="311.44" font-size="2.9" fill="#222" stroke="#222" stroke-width="0.25" font-weight="bold" text-anchor="middle" transform="rotate(-90 373.4 310.4)" >16h</text>
<line x1="367.49" y1="314.4" x2="374.9" y2="314.4" stroke="#444" stroke-width="0.8" />
<text x="372" y="319.87" font-size="3.8" fill="#222" stroke="#222" stroke-width="0.25" font-weight="bold" text-anchor="middle" textLength="4.2" lengthAdjust="spacingAndGlyphs" >30</text>
<path d="M283.4 321.8L283.8 323.4L313.26 323.4L313.86 322.2L314.46 323.4L344.13 323.4L344.74 322.2L345.34 323.4L374.8 323.4L375.2 321.8" fill="none" stroke="#222" stroke-width="0.7"/>
<text x="299.03" y="330.04" font-size="5.4" fill="#111" stroke="#111" stroke-width="0.25" font-weight="bold" text-anchor="middle" textLength="8" lengthAdjust="spacingAndGlyphs" >+/+</text>
<text x="329.9" y="330.04" font-size="5.4" fill="#111" stroke="#111" stroke-width="0.25" font-weight="bold" text-anchor="middle" textLength="8" lengthAdjust="spacingAndGlyphs" >+/-</text>
<text x="360.77" y="330.04" font-size="5.4" fill="#111" stroke="#111" stroke-width="0.25" font-weight="bold" text-anchor="middle" textLength="5.4" lengthAdjust="spacingAndGlyphs" >-/-</text>
<text x="274.3" y="318.9" font-size="3.6" fill="#333" stroke="#333" stroke-width="0.25" font-weight="bold" text-anchor="middle" textLength="7.2" lengthAdjust="spacingAndGlyphs" >IL-3</text>
<text x="274" y="324.3" font-size="3.6" fill="#333" stroke="#333" stroke-width="0.25" font-weight="bold" text-anchor="middle" textLength="14.6" lengthAdjust="spacingAndGlyphs" >(ng/mL)</text>
<rect x="377.7" y="306" width="2.4" height="8.2" fill="#c4c4c4" stroke="#9a9a9a" stroke-width="0.4" />
<line x1="408.4" y1="295.03" x2="499.2" y2="295.03" stroke="#8a8a8a" stroke-width="0.7" />
<line x1="408.4" y1="285.27" x2="499.2" y2="285.27" stroke="#8a8a8a" stroke-width="0.7" />
<line x1="408.4" y1="275.5" x2="499.2" y2="275.5" stroke="#8a8a8a" stroke-width="0.7" />
<line x1="408.4" y1="265.73" x2="499.2" y2="265.73" stroke="#8a8a8a" stroke-width="0.7" />
<line x1="408.4" y1="255.97" x2="499.2" y2="255.97" stroke="#8a8a8a" stroke-width="0.7" />
<rect x="408.4" y="246.2" width="90.8" height="58.6" fill="none" stroke="#8a8a8a" stroke-width="0.8" />
<text x="402.2" y="306.7" font-size="5" fill="#222" stroke="#222" stroke-width="0.25" text-anchor="middle" textLength="2.5" lengthAdjust="spacingAndGlyphs" >0</text>
<text x="402.2" y="296.93" font-size="5" fill="#222" stroke="#222" stroke-width="0.25" text-anchor="middle" textLength="6" lengthAdjust="spacingAndGlyphs" >0.5</text>
<text x="402.2" y="287.17" font-size="5" fill="#222" stroke="#222" stroke-width="0.25" text-anchor="middle" textLength="2.5" lengthAdjust="spacingAndGlyphs" >1</text>
<text x="402.2" y="277.4" font-size="5" fill="#222" stroke="#222" stroke-width="0.25" text-anchor="middle" textLength="6" lengthAdjust="spacingAndGlyphs" >1.5</text>
<text x="402.2" y="267.63" font-size="5" fill="#222" stroke="#222" stroke-width="0.25" text-anchor="middle" textLength="2.5" lengthAdjust="spacingAndGlyphs" >2</text>
<text x="402.2" y="257.87" font-size="5" fill="#222" stroke="#222" stroke-width="0.25" text-anchor="middle" textLength="6" lengthAdjust="spacingAndGlyphs" >2.5</text>
<text x="402.2" y="248.1" font-size="5" fill="#222" stroke="#222" stroke-width="0.25" text-anchor="middle" textLength="2.5" lengthAdjust="spacingAndGlyphs" >3</text>
<text x="408.6" y="241.5" font-size="8.4" font-weight="bold" font-style="italic" fill="#111" stroke="#111" stroke-width="0.3" textLength="36.4" lengthAdjust="spacingAndGlyphs">Cyclin D2</text>
<line x1="410.3" y1="284.88" x2="410.3" y2="285.27" stroke="#888" stroke-width="0.4" />
<line x1="409.7" y1="284.88" x2="410.9" y2="284.88" stroke="#888" stroke-width="0.4" />
<line x1="409.7" y1="285.27" x2="410.9" y2="285.27" stroke="#888" stroke-width="0.4" />
<rect x="409" y="285.27" width="2.6" height="19.53" fill="#e6e6e6" stroke="#8a8a8a" stroke-width="0.5" />
<line x1="414.66" y1="287.02" x2="414.66" y2="289.95" stroke="#888" stroke-width="0.4" />
<line x1="414.06" y1="287.02" x2="415.26" y2="287.02" stroke="#888" stroke-width="0.4" />
<line x1="414.06" y1="289.95" x2="415.26" y2="289.95" stroke="#888" stroke-width="0.4" />
<rect x="413.36" y="289.95" width="2.6" height="14.85" fill="#e6e6e6" stroke="#8a8a8a" stroke-width="0.5" />
<line x1="419.02" y1="293.28" x2="419.02" y2="296.4" stroke="#888" stroke-width="0.4" />
<line x1="418.42" y1="293.28" x2="419.62" y2="293.28" stroke="#888" stroke-width="0.4" />
<line x1="418.42" y1="296.4" x2="419.62" y2="296.4" stroke="#888" stroke-width="0.4" />
<rect x="417.72" y="296.4" width="2.6" height="8.4" fill="#e6e6e6" stroke="#8a8a8a" stroke-width="0.5" />
<line x1="423.38" y1="286.63" x2="423.38" y2="291.32" stroke="#888" stroke-width="0.4" />
<line x1="422.78" y1="286.63" x2="423.98" y2="286.63" stroke="#888" stroke-width="0.4" />
<line x1="422.78" y1="291.32" x2="423.98" y2="291.32" stroke="#888" stroke-width="0.4" />
<rect x="422.08" y="291.32" width="2.6" height="13.48" fill="#e6e6e6" stroke="#8a8a8a" stroke-width="0.5" />
<line x1="427.74" y1="293.08" x2="427.74" y2="296.21" stroke="#888" stroke-width="0.4" />
<line x1="427.14" y1="293.08" x2="428.34" y2="293.08" stroke="#888" stroke-width="0.4" />
<line x1="427.14" y1="296.21" x2="428.34" y2="296.21" stroke="#888" stroke-width="0.4" />
<rect x="426.44" y="296.21" width="2.6" height="8.59" fill="#e6e6e6" stroke="#8a8a8a" stroke-width="0.5" />
<line x1="432.1" y1="291.13" x2="432.1" y2="295.03" stroke="#888" stroke-width="0.4" />
<line x1="431.5" y1="291.13" x2="432.7" y2="291.13" stroke="#888" stroke-width="0.4" />
<line x1="431.5" y1="295.03" x2="432.7" y2="295.03" stroke="#888" stroke-width="0.4" />
<rect x="430.8" y="295.03" width="2.6" height="9.77" fill="#e6e6e6" stroke="#8a8a8a" stroke-width="0.5" />
<line x1="436.46" y1="289.56" x2="436.46" y2="293.86" stroke="#888" stroke-width="0.4" />
<line x1="435.86" y1="289.56" x2="437.06" y2="289.56" stroke="#888" stroke-width="0.4" />
<line x1="435.86" y1="293.86" x2="437.06" y2="293.86" stroke="#888" stroke-width="0.4" />
<rect x="435.16" y="293.86" width="2.6" height="10.94" fill="#e6e6e6" stroke="#8a8a8a" stroke-width="0.5" />
<line x1="440.82" y1="283.7" x2="440.82" y2="284.29" stroke="#888" stroke-width="0.4" />
<line x1="440.22" y1="283.7" x2="441.42" y2="283.7" stroke="#888" stroke-width="0.4" />
<line x1="440.22" y1="284.29" x2="441.42" y2="284.29" stroke="#888" stroke-width="0.4" />
<rect x="439.67" y="284.29" width="2.3" height="20.51" fill="#959595" stroke="#858585" stroke-width="0.5" />
<line x1="445.18" y1="282.34" x2="445.18" y2="283.31" stroke="#888" stroke-width="0.4" />
<line x1="444.58" y1="282.34" x2="445.78" y2="282.34" stroke="#888" stroke-width="0.4" />
<line x1="444.58" y1="283.31" x2="445.78" y2="283.31" stroke="#888" stroke-width="0.4" />
<rect x="444.03" y="283.31" width="2.3" height="21.49" fill="#959595" stroke="#858585" stroke-width="0.5" />
<line x1="449.54" y1="283.51" x2="449.54" y2="284.29" stroke="#888" stroke-width="0.4" />
<line x1="448.94" y1="283.51" x2="450.14" y2="283.51" stroke="#888" stroke-width="0.4" />
<line x1="448.94" y1="284.29" x2="450.14" y2="284.29" stroke="#888" stroke-width="0.4" />
<rect x="448.39" y="284.29" width="2.3" height="20.51" fill="#959595" stroke="#858585" stroke-width="0.5" />
<line x1="453.9" y1="283.51" x2="453.9" y2="284.29" stroke="#888" stroke-width="0.4" />
<line x1="453.3" y1="283.51" x2="454.5" y2="283.51" stroke="#888" stroke-width="0.4" />
<line x1="453.3" y1="284.29" x2="454.5" y2="284.29" stroke="#888" stroke-width="0.4" />
<rect x="452.75" y="284.29" width="2.3" height="20.51" fill="#959595" stroke="#858585" stroke-width="0.5" />
<line x1="458.26" y1="283.51" x2="458.26" y2="284.29" stroke="#888" stroke-width="0.4" />
<line x1="457.66" y1="283.51" x2="458.86" y2="283.51" stroke="#888" stroke-width="0.4" />
<line x1="457.66" y1="284.29" x2="458.86" y2="284.29" stroke="#888" stroke-width="0.4" />
<rect x="457.11" y="284.29" width="2.3" height="20.51" fill="#959595" stroke="#858585" stroke-width="0.5" />
<line x1="462.62" y1="279.8" x2="462.62" y2="281.36" stroke="#888" stroke-width="0.4" />
<line x1="462.02" y1="279.8" x2="463.22" y2="279.8" stroke="#888" stroke-width="0.4" />
<line x1="462.02" y1="281.36" x2="463.22" y2="281.36" stroke="#888" stroke-width="0.4" />
<rect x="461.47" y="281.36" width="2.3" height="23.44" fill="#959595" stroke="#858585" stroke-width="0.5" />
<line x1="466.98" y1="265.34" x2="466.98" y2="267.69" stroke="#888" stroke-width="0.4" />
<line x1="466.38" y1="265.34" x2="467.58" y2="265.34" stroke="#888" stroke-width="0.4" />
<line x1="466.38" y1="267.69" x2="467.58" y2="267.69" stroke="#888" stroke-width="0.4" />
<rect x="465.83" y="267.69" width="2.3" height="37.11" fill="#959595" stroke="#858585" stroke-width="0.5" />
<line x1="471.34" y1="283.7" x2="471.34" y2="284.29" stroke="#888" stroke-width="0.4" />
<line x1="470.74" y1="283.7" x2="471.94" y2="283.7" stroke="#888" stroke-width="0.4" />
<line x1="470.74" y1="284.29" x2="471.94" y2="284.29" stroke="#888" stroke-width="0.4" />
<rect x="470.19" y="284.29" width="2.3" height="20.51" fill="#0a0a0a" stroke="#000" stroke-width="0.5" />
<line x1="475.7" y1="282.53" x2="475.7" y2="283.31" stroke="#888" stroke-width="0.4" />
<line x1="475.1" y1="282.53" x2="476.3" y2="282.53" stroke="#888" stroke-width="0.4" />
<line x1="475.1" y1="283.31" x2="476.3" y2="283.31" stroke="#888" stroke-width="0.4" />
<rect x="474.55" y="283.31" width="2.3" height="21.49" fill="#0a0a0a" stroke="#000" stroke-width="0.5" />
<line x1="480.06" y1="286.63" x2="480.06" y2="287.22" stroke="#888" stroke-width="0.4" />
<line x1="479.46" y1="286.63" x2="480.66" y2="286.63" stroke="#888" stroke-width="0.4" />
<line x1="479.46" y1="287.22" x2="480.66" y2="287.22" stroke="#888" stroke-width="0.4" />
<rect x="478.91" y="287.22" width="2.3" height="17.58" fill="#0a0a0a" stroke="#000" stroke-width="0.5" />
<line x1="484.42" y1="277.26" x2="484.42" y2="278.43" stroke="#888" stroke-width="0.4" />
<line x1="483.82" y1="277.26" x2="485.02" y2="277.26" stroke="#888" stroke-width="0.4" />
<line x1="483.82" y1="278.43" x2="485.02" y2="278.43" stroke="#888" stroke-width="0.4" />
<rect x="483.27" y="278.43" width="2.3" height="26.37" fill="#0a0a0a" stroke="#000" stroke-width="0.5" />
<line x1="488.78" y1="283.12" x2="488.78" y2="283.7" stroke="#888" stroke-width="0.4" />
<line x1="488.18" y1="283.12" x2="489.38" y2="283.12" stroke="#888" stroke-width="0.4" />
<line x1="488.18" y1="283.7" x2="489.38" y2="283.7" stroke="#888" stroke-width="0.4" />
<rect x="487.63" y="283.7" width="2.3" height="21.1" fill="#0a0a0a" stroke="#000" stroke-width="0.5" />
<line x1="493.14" y1="276.09" x2="493.14" y2="277.45" stroke="#888" stroke-width="0.4" />
<line x1="492.54" y1="276.09" x2="493.74" y2="276.09" stroke="#888" stroke-width="0.4" />
<line x1="492.54" y1="277.45" x2="493.74" y2="277.45" stroke="#888" stroke-width="0.4" />
<rect x="491.99" y="277.45" width="2.3" height="27.35" fill="#0a0a0a" stroke="#000" stroke-width="0.5" />
<line x1="497.5" y1="252.06" x2="497.5" y2="255.97" stroke="#888" stroke-width="0.4" />
<line x1="496.9" y1="252.06" x2="498.1" y2="252.06" stroke="#888" stroke-width="0.4" />
<line x1="496.9" y1="255.97" x2="498.1" y2="255.97" stroke="#888" stroke-width="0.4" />
<rect x="496.35" y="255.97" width="2.3" height="48.83" fill="#0a0a0a" stroke="#000" stroke-width="0.5" />
<line x1="409.1" y1="310.8" x2="411.5" y2="310.8" stroke="#222" stroke-width="0.9" />
<text x="414.66" y="311.84" font-size="2.9" fill="#222" stroke="#222" stroke-width="0.25" font-weight="bold" text-anchor="middle" transform="rotate(-90 414.66 310.8)" >2h</text>
<text x="419.02" y="311.84" font-size="2.9" fill="#222" stroke="#222" stroke-width="0.25" font-weight="bold" text-anchor="middle" transform="rotate(-90 419.02 310.8)" >16h</text>
<line x1="413.16" y1="314.8" x2="420.52" y2="314.8" stroke="#444" stroke-width="0.8" />
<text x="417.64" y="320.27" font-size="3.8" fill="#222" stroke="#222" stroke-width="0.25" font-weight="bold" text-anchor="middle" textLength="2.1" lengthAdjust="spacingAndGlyphs" >3</text>
<text x="423.38" y="311.84" font-size="2.9" fill="#222" stroke="#222" stroke-width="0.25" font-weight="bold" text-anchor="middle" transform="rotate(-90 423.38 310.8)" >2h</text>
<text x="427.74" y="311.84" font-size="2.9" fill="#222" stroke="#222" stroke-width="0.25" font-weight="bold" text-anchor="middle" transform="rotate(-90 427.74 310.8)" >16h</text>
<line x1="421.88" y1="314.8" x2="429.24" y2="314.8" stroke="#444" stroke-width="0.8" />
<text x="426.36" y="320.27" font-size="3.8" fill="#222" stroke="#222" stroke-width="0.25" font-weight="bold" text-anchor="middle" textLength="4.2" lengthAdjust="spacingAndGlyphs" >10</text>
<text x="432.1" y="311.84" font-size="2.9" fill="#222" stroke="#222" stroke-width="0.25" font-weight="bold" text-anchor="middle" transform="rotate(-90 432.1 310.8)" >2h</text>
<text x="436.46" y="311.84" font-size="2.9" fill="#222" stroke="#222" stroke-width="0.25" font-weight="bold" text-anchor="middle" transform="rotate(-90 436.46 310.8)" >16h</text>
<line x1="430.6" y1="314.8" x2="437.96" y2="314.8" stroke="#444" stroke-width="0.8" />
<text x="435.08" y="320.27" font-size="3.8" fill="#222" stroke="#222" stroke-width="0.25" font-weight="bold" text-anchor="middle" textLength="4.2" lengthAdjust="spacingAndGlyphs" >30</text>
<line x1="439.62" y1="310.8" x2="442.02" y2="310.8" stroke="#222" stroke-width="0.9" />
<text x="445.18" y="311.84" font-size="2.9" fill="#222" stroke="#222" stroke-width="0.25" font-weight="bold" text-anchor="middle" transform="rotate(-90 445.18 310.8)" >2h</text>
<text x="449.54" y="311.84" font-size="2.9" fill="#222" stroke="#222" stroke-width="0.25" font-weight="bold" text-anchor="middle" transform="rotate(-90 449.54 310.8)" >16h</text>
<line x1="443.68" y1="314.8" x2="451.04" y2="314.8" stroke="#444" stroke-width="0.8" />
<text x="448.16" y="320.27" font-size="3.8" fill="#222" stroke="#222" stroke-width="0.25" font-weight="bold" text-anchor="middle" textLength="2.1" lengthAdjust="spacingAndGlyphs" >3</text>
<text x="453.9" y="311.84" font-size="2.9" fill="#222" stroke="#222" stroke-width="0.25" font-weight="bold" text-anchor="middle" transform="rotate(-90 453.9 310.8)" >2h</text>
<text x="458.26" y="311.84" font-size="2.9" fill="#222" stroke="#222" stroke-width="0.25" font-weight="bold" text-anchor="middle" transform="rotate(-90 458.26 310.8)" >16h</text>
<line x1="452.4" y1="314.8" x2="459.76" y2="314.8" stroke="#444" stroke-width="0.8" />
<text x="456.88" y="320.27" font-size="3.8" fill="#222" stroke="#222" stroke-width="0.25" font-weight="bold" text-anchor="middle" textLength="4.2" lengthAdjust="spacingAndGlyphs" >10</text>
<text x="462.62" y="311.84" font-size="2.9" fill="#222" stroke="#222" stroke-width="0.25" font-weight="bold" text-anchor="middle" transform="rotate(-90 462.62 310.8)" >2h</text>
<text x="466.98" y="311.84" font-size="2.9" fill="#222" stroke="#222" stroke-width="0.25" font-weight="bold" text-anchor="middle" transform="rotate(-90 466.98 310.8)" >16h</text>
<line x1="461.12" y1="314.8" x2="468.48" y2="314.8" stroke="#444" stroke-width="0.8" />
<text x="465.6" y="320.27" font-size="3.8" fill="#222" stroke="#222" stroke-width="0.25" font-weight="bold" text-anchor="middle" textLength="4.2" lengthAdjust="spacingAndGlyphs" >30</text>
<line x1="470.14" y1="310.8" x2="472.54" y2="310.8" stroke="#222" stroke-width="0.9" />
<text x="475.7" y="311.84" font-size="2.9" fill="#222" stroke="#222" stroke-width="0.25" font-weight="bold" text-anchor="middle" transform="rotate(-90 475.7 310.8)" >2h</text>
<text x="480.06" y="311.84" font-size="2.9" fill="#222" stroke="#222" stroke-width="0.25" font-weight="bold" text-anchor="middle" transform="rotate(-90 480.06 310.8)" >16h</text>
<line x1="474.2" y1="314.8" x2="481.56" y2="314.8" stroke="#444" stroke-width="0.8" />
<text x="478.68" y="320.27" font-size="3.8" fill="#222" stroke="#222" stroke-width="0.25" font-weight="bold" text-anchor="middle" textLength="2.1" lengthAdjust="spacingAndGlyphs" >3</text>
<text x="484.42" y="311.84" font-size="2.9" fill="#222" stroke="#222" stroke-width="0.25" font-weight="bold" text-anchor="middle" transform="rotate(-90 484.42 310.8)" >2h</text>
<text x="488.78" y="311.84" font-size="2.9" fill="#222" stroke="#222" stroke-width="0.25" font-weight="bold" text-anchor="middle" transform="rotate(-90 488.78 310.8)" >16h</text>
<line x1="482.92" y1="314.8" x2="490.28" y2="314.8" stroke="#444" stroke-width="0.8" />
<text x="487.4" y="320.27" font-size="3.8" fill="#222" stroke="#222" stroke-width="0.25" font-weight="bold" text-anchor="middle" textLength="4.2" lengthAdjust="spacingAndGlyphs" >10</text>
<text x="493.14" y="311.84" font-size="2.9" fill="#222" stroke="#222" stroke-width="0.25" font-weight="bold" text-anchor="middle" transform="rotate(-90 493.14 310.8)" >2h</text>
<text x="497.5" y="311.84" font-size="2.9" fill="#222" stroke="#222" stroke-width="0.25" font-weight="bold" text-anchor="middle" transform="rotate(-90 497.5 310.8)" >16h</text>
<line x1="491.64" y1="314.8" x2="499" y2="314.8" stroke="#444" stroke-width="0.8" />
<text x="496.12" y="320.27" font-size="3.8" fill="#222" stroke="#222" stroke-width="0.25" font-weight="bold" text-anchor="middle" textLength="4.2" lengthAdjust="spacingAndGlyphs" >30</text>
<path d="M408.5 322.2L408.9 323.8L438.04 323.8L438.64 322.6L439.24 323.8L468.56 323.8L469.16 322.6L469.76 323.8L498.9 323.8L499.3 322.2" fill="none" stroke="#222" stroke-width="0.7"/>
<text x="423.98" y="330.44" font-size="5.4" fill="#111" stroke="#111" stroke-width="0.25" font-weight="bold" text-anchor="middle" textLength="8" lengthAdjust="spacingAndGlyphs" >+/+</text>
<text x="454.5" y="330.44" font-size="5.4" fill="#111" stroke="#111" stroke-width="0.25" font-weight="bold" text-anchor="middle" textLength="8" lengthAdjust="spacingAndGlyphs" >+/-</text>
<text x="485.02" y="330.44" font-size="5.4" fill="#111" stroke="#111" stroke-width="0.25" font-weight="bold" text-anchor="middle" textLength="5.4" lengthAdjust="spacingAndGlyphs" >-/-</text>
<text x="399.4" y="319.3" font-size="3.6" fill="#333" stroke="#333" stroke-width="0.25" font-weight="bold" text-anchor="middle" textLength="7.2" lengthAdjust="spacingAndGlyphs" >IL-3</text>
<text x="399.1" y="324.7" font-size="3.6" fill="#333" stroke="#333" stroke-width="0.25" font-weight="bold" text-anchor="middle" textLength="14.6" lengthAdjust="spacingAndGlyphs" >(ng/mL)</text>
<rect x="502.3" y="306.4" width="2.4" height="8.2" fill="#c4c4c4" stroke="#9a9a9a" stroke-width="0.4" />
</svg>
</body></html>
